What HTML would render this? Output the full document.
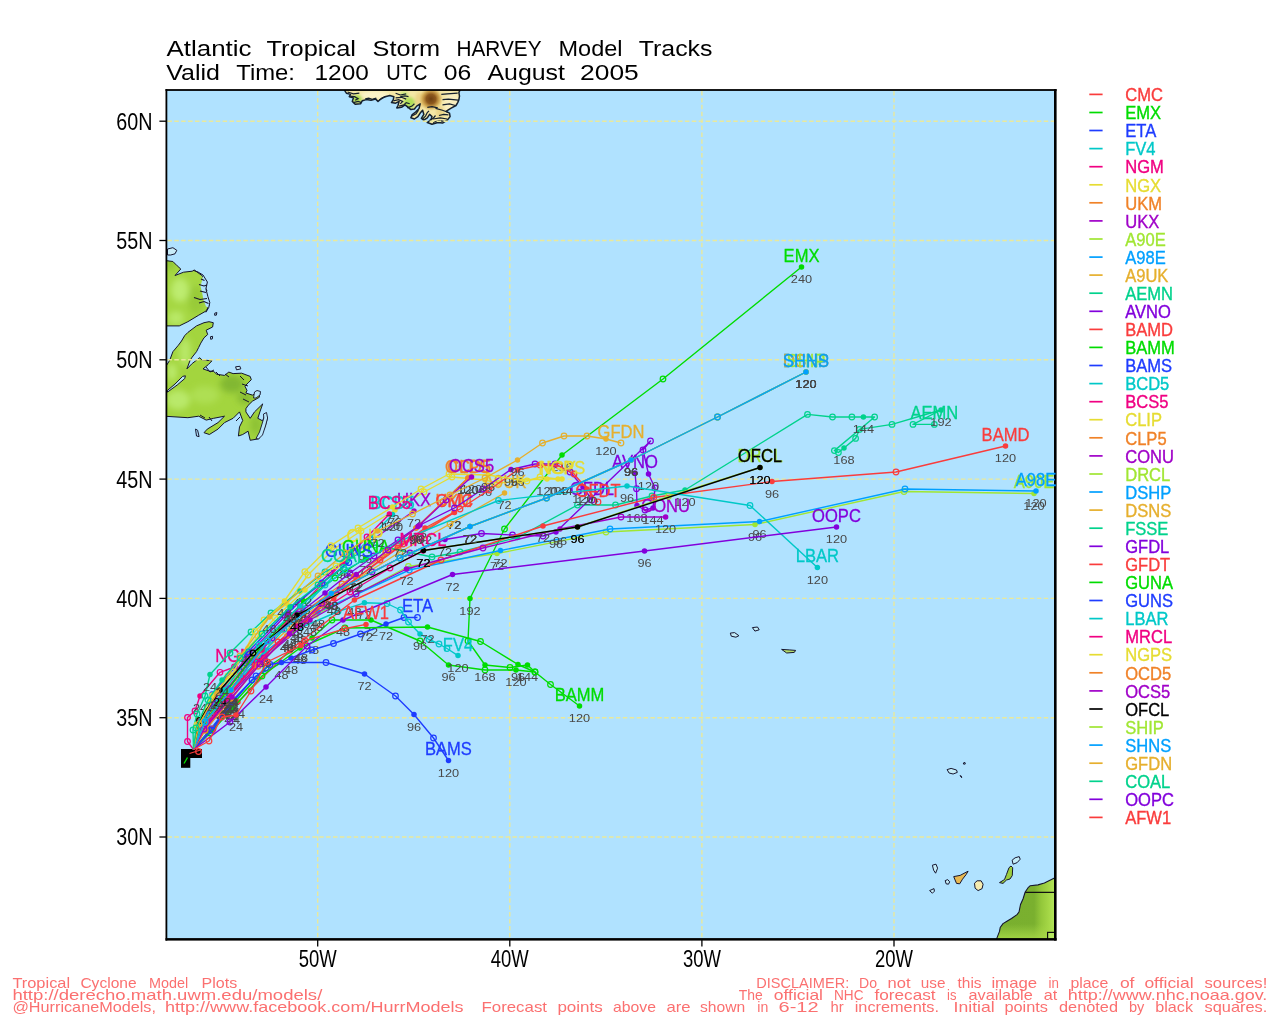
<!DOCTYPE html>
<html lang="en"><head><meta charset="utf-8"><title>Atlantic Tropical Storm HARVEY Model Tracks</title>
<style>
html,body{margin:0;padding:0;background:#fff}
body{width:1280px;height:1024px;overflow:hidden;font-family:"Liberation Sans",sans-serif}
svg{display:block}
text{font-family:"Liberation Sans",sans-serif}
.ttl{font-size:21.8px;fill:#000}
.ax{font-size:23.8px;fill:#000}
.lg{font-size:17.7px;stroke-width:.35px}
.ft{font-size:14.4px;fill:#fb7070}
.hr{font-size:11.4px;fill:#484848}
.hb{font-size:11.4px;fill:#000}
.ml{font-size:18.3px;stroke-width:.3px}
.oc{fill:none;stroke-width:1.2}
.fc{stroke:none}
.trk{fill:none;stroke-width:1.38;stroke-linejoin:round}
</style></head><body>
<svg width="1280" height="1024" viewBox="0 0 1280 1024">
<rect x="0" y="0" width="1280" height="1024" fill="#fff"/>
<rect x="166.4" y="90.0" width="888.8000000000001" height="849.3" fill="#b0e2ff"/>
<clipPath id="cp"><rect x="166.4" y="90.0" width="888.8000000000001" height="849.3"/></clipPath>
<g clip-path="url(#cp)">
<defs>
<radialGradient id="gl1" cx="0.35" cy="0.45" r="0.6"><stop offset="0" stop-color="#bdeb72"/><stop offset="0.6" stop-color="#a8db48"/><stop offset="1" stop-color="#92c636"/></radialGradient>
<linearGradient id="gaf" gradientUnits="userSpaceOnUse" x1="997" y1="0" x2="1055" y2="0"><stop offset="0" stop-color="#79af2e"/><stop offset="0.64" stop-color="#7ab02f"/><stop offset="0.76" stop-color="#93c73a"/><stop offset="0.9" stop-color="#a6d847"/><stop offset="1" stop-color="#b4e65e"/></linearGradient>
<linearGradient id="gaf2" x1="0" y1="0" x2="0" y2="1"><stop offset="0" stop-color="#a6d846" stop-opacity="0"/><stop offset="0.8" stop-color="#a6d846" stop-opacity="0.85"/></linearGradient>
<radialGradient id="ggr" cx="0.5" cy="0.5" r="0.5"><stop offset="0" stop-color="#6e4012"/><stop offset="0.4" stop-color="#8f5a1e"/><stop offset="0.7" stop-color="#c8983e" stop-opacity="0.8"/><stop offset="1" stop-color="#d8b050" stop-opacity="0"/></radialGradient>
<filter id="bl" x="-20%" y="-20%" width="140%" height="140%"><feGaussianBlur stdDeviation="3"/></filter>
<filter id="bl2" x="-30%" y="-30%" width="160%" height="160%"><feGaussianBlur stdDeviation="1.6"/></filter>
</defs>
<clipPath id="clab"><path d="M164.3 260.4 L172.9 261.5 L177.2 265.8 L180.8 269.0 L175.0 275.5 L183.6 272.2 L192.2 271.2 L194.4 270.1 L201.9 275.5 L206.2 281.9 L204.7 286.2 L206.8 290.5 L204.0 294.8 L207.7 298.0 L206.2 302.3 L209.0 305.5 L206.2 310.9 L198.7 315.2 L187.9 321.7 L179.3 325.9 L164.3 325.9Z"/></clipPath>
<path d="M164.3 260.4 L172.9 261.5 L177.2 265.8 L180.8 269.0 L175.0 275.5 L183.6 272.2 L192.2 271.2 L194.4 270.1 L201.9 275.5 L206.2 281.9 L204.7 286.2 L206.8 290.5 L204.0 294.8 L207.7 298.0 L206.2 302.3 L209.0 305.5 L206.2 310.9 L198.7 315.2 L187.9 321.7 L179.3 325.9 L164.3 325.9Z" fill="#a5d742"/>
<g clip-path="url(#clab)" filter="url(#bl)"><ellipse cx="180" cy="290" rx="9" ry="12" fill="#bdec70"/><ellipse cx="176" cy="318" rx="8" ry="7" fill="#b9e968"/><ellipse cx="196" cy="300" rx="8" ry="14" fill="#98cb38"/><ellipse cx="170" cy="262" rx="5" ry="8" fill="#8fc434"/></g>
<path d="M164.3 260.4 L172.9 261.5 L177.2 265.8 L180.8 269.0 L175.0 275.5 L183.6 272.2 L192.2 271.2 L194.4 270.1 L201.9 275.5 L206.2 281.9 L204.7 286.2 L206.8 290.5 L204.0 294.8 L207.7 298.0 L206.2 302.3 L209.0 305.5 L206.2 310.9 L198.7 315.2 L187.9 321.7 L179.3 325.9 L164.3 325.9Z" fill="none" stroke="#15152e" stroke-width="1" stroke-linejoin="round"/>
<path d="M167.5 249.0 L172.9 247.7 L176.8 250.3 L175.0 253.8 L170.7 255.0 L167.5 255.0Z" fill="#c8ecf8" stroke="#15152e" stroke-width="1.0" stroke-linejoin="round" />
<path d="M203 275 L207.4 282 L205.9 288.8 L207.9 296.6 L209.8 302.5 L208.8 307.4 L206 306.5 L203.5 300 L202 292 L200.5 286 L202.5 279Z" fill="#b0e2ff"/>
<path d="M193.2 270.3 L198 272 L203 275 L207.4 282 L205.9 288.8 L207.9 296.6 L209.8 302.5 L208.8 307.4 L205.9 312.3" fill="none" stroke="#15152e" stroke-width="1"/>
<path d="M199 284.5 L204 286 L207 285 M200 291 L206 292.5 M194 297.5 L200 299.5 L207 298.5 M199 303 L204 301.5 L208.5 303.5 M201 279 L204.5 280.5" fill="none" stroke="#15152e" stroke-width="1.1"/>
<clipPath id="cnf"><path d="M164.3 368.9 L169.7 360.3 L172.9 351.7 L178.3 345.3 L181.5 341.0 L184.7 335.6 L187.9 332.4 L196.5 325.9 L204.0 322.7 L209.0 321.7 L213.3 322.7 L212.6 327.0 L206.2 330.2 L207.7 334.5 L204.0 337.8 L200.8 343.1 L198.7 347.4 L196.5 351.7 L192.2 357.1 L190.1 360.3 L186.9 368.9 L192.2 363.5 L199.8 357.7 L201.9 359.9 L206.2 360.3 L212.0 360.8 L208.3 364.6 L203.0 368.9 L209.4 371.1 L213.7 371.5 L216.9 374.3 L224.5 375.4 L228.8 372.1 L233.1 373.6 L241.7 373.2 L250.2 376.4 L251.3 379.7 L248.1 382.9 L244.9 386.1 L247.0 390.4 L245.9 393.0 L252.4 395.1 L259.9 392.1 L259.3 397.3 L252.4 401.2 L248.1 405.4 L245.9 408.7 L245.9 411.9 L250.2 418.3 L254.5 411.9 L262.7 403.9 L259.9 411.9 L257.8 418.3 L262.7 420.9 L265.3 413.0 L267.4 418.3 L265.3 425.9 L263.1 431.2 L258.8 438.8 L250.2 440.3 L248.1 431.2 L242.7 434.5 L238.4 436.0 L239.5 426.9 L242.7 420.5 L239.5 411.9 L233.1 418.3 L224.5 422.6 L218.0 429.1 L209.4 434.5 L204.0 432.7 L207.3 429.1 L218.0 422.6 L224.5 416.2 L213.7 418.3 L206.2 420.1 L198.7 416.2 L187.9 417.7 L164.3 416.2Z"/></clipPath>
<path d="M164.3 368.9 L169.7 360.3 L172.9 351.7 L178.3 345.3 L181.5 341.0 L184.7 335.6 L187.9 332.4 L196.5 325.9 L204.0 322.7 L209.0 321.7 L213.3 322.7 L212.6 327.0 L206.2 330.2 L207.7 334.5 L204.0 337.8 L200.8 343.1 L198.7 347.4 L196.5 351.7 L192.2 357.1 L190.1 360.3 L186.9 368.9 L192.2 363.5 L199.8 357.7 L201.9 359.9 L206.2 360.3 L212.0 360.8 L208.3 364.6 L203.0 368.9 L209.4 371.1 L213.7 371.5 L216.9 374.3 L224.5 375.4 L228.8 372.1 L233.1 373.6 L241.7 373.2 L250.2 376.4 L251.3 379.7 L248.1 382.9 L244.9 386.1 L247.0 390.4 L245.9 393.0 L252.4 395.1 L259.9 392.1 L259.3 397.3 L252.4 401.2 L248.1 405.4 L245.9 408.7 L245.9 411.9 L250.2 418.3 L254.5 411.9 L262.7 403.9 L259.9 411.9 L257.8 418.3 L262.7 420.9 L265.3 413.0 L267.4 418.3 L265.3 425.9 L263.1 431.2 L258.8 438.8 L250.2 440.3 L248.1 431.2 L242.7 434.5 L238.4 436.0 L239.5 426.9 L242.7 420.5 L239.5 411.9 L233.1 418.3 L224.5 422.6 L218.0 429.1 L209.4 434.5 L204.0 432.7 L207.3 429.1 L218.0 422.6 L224.5 416.2 L213.7 418.3 L206.2 420.1 L198.7 416.2 L187.9 417.7 L164.3 416.2Z" fill="#a3d53e"/>
<g clip-path="url(#cnf)" filter="url(#bl)"><ellipse cx="178" cy="400" rx="12" ry="10" fill="#b9e96a"/><ellipse cx="185" cy="352" rx="6" ry="14" fill="#b8e868"/><ellipse cx="172" cy="372" rx="5" ry="9" fill="#bbea6c"/><ellipse cx="205" cy="395" rx="14" ry="9" fill="#aedf52"/><ellipse cx="232" cy="384" rx="12" ry="9" fill="#82b830"/><ellipse cx="245" cy="398" rx="8" ry="6" fill="#86bb32"/><ellipse cx="256" cy="425" rx="6" ry="10" fill="#8ec234"/><ellipse cx="176" cy="336" rx="5" ry="8" fill="#8cc034"/></g>
<path d="M164.3 368.9 L169.7 360.3 L172.9 351.7 L178.3 345.3 L181.5 341.0 L184.7 335.6 L187.9 332.4 L196.5 325.9 L204.0 322.7 L209.0 321.7 L213.3 322.7 L212.6 327.0 L206.2 330.2 L207.7 334.5 L204.0 337.8 L200.8 343.1 L198.7 347.4 L196.5 351.7 L192.2 357.1 L190.1 360.3 L186.9 368.9 L192.2 363.5 L199.8 357.7 L201.9 359.9 L206.2 360.3 L212.0 360.8 L208.3 364.6 L203.0 368.9 L209.4 371.1 L213.7 371.5 L216.9 374.3 L224.5 375.4 L228.8 372.1 L233.1 373.6 L241.7 373.2 L250.2 376.4 L251.3 379.7 L248.1 382.9 L244.9 386.1 L247.0 390.4 L245.9 393.0 L252.4 395.1 L259.9 392.1 L259.3 397.3 L252.4 401.2 L248.1 405.4 L245.9 408.7 L245.9 411.9 L250.2 418.3 L254.5 411.9 L262.7 403.9 L259.9 411.9 L257.8 418.3 L262.7 420.9 L265.3 413.0 L267.4 418.3 L265.3 425.9 L263.1 431.2 L258.8 438.8 L250.2 440.3 L248.1 431.2 L242.7 434.5 L238.4 436.0 L239.5 426.9 L242.7 420.5 L239.5 411.9 L233.1 418.3 L224.5 422.6 L218.0 429.1 L209.4 434.5 L204.0 432.7 L207.3 429.1 L218.0 422.6 L224.5 416.2 L213.7 418.3 L206.2 420.1 L198.7 416.2 L187.9 417.7 L164.3 416.2Z" fill="none" stroke="#15152e" stroke-width="1" stroke-linejoin="round"/>
<path d="M167.5 390.4 L175.0 384.0 L182.6 376.4 L185.4 375.8 L184.7 378.6 L177.2 385.0 L167.5 392.1Z" fill="#b8e4f4" stroke="#15152e" stroke-width="1.0" stroke-linejoin="round" />
<path d="M263.5 414 L266.5 412.5 L267.6 418 L265.5 426 L262.5 435 L258.5 439 L256 438.5 L259.5 432 L262 424 L263.8 418Z" fill="#b8e6fb" stroke="#15152e" stroke-width="0.9"/>
<path d="M254.5 392 L257 390.5 L260.5 391.5 L260 395 L256 398 L253.5 398Z" fill="#b8e6fb" stroke="#15152e" stroke-width="0.9"/>
<path d="M240 376 L244 380 M242 384 L248 386 M240 392 L246 395 M243 399 L249 402 M206 367 L210 372 L214 370 M216 372 L220 376 M225 374 L229 377 M200 415 L205 418 M209 417 L212 421 M236 421 L240 417" fill="none" stroke="#15152e" stroke-width="1"/>
<path d="M214.8 313.1 L216.9 312.6 L216.3 315.2 L214.6 315.2Z" fill="none" stroke="#15152e" stroke-width="1.0" stroke-linejoin="round" />
<path d="M210.5 336.7 L212.6 336.3 L212.4 338.8 L210.7 339.3Z" fill="none" stroke="#15152e" stroke-width="1.0" stroke-linejoin="round" />
<path d="M235.6 366.8 L239.9 366.3 L240.8 368.9 L236.5 369.8Z" fill="#c8ecf8" stroke="#15152e" stroke-width="1.0" stroke-linejoin="round" />
<path d="M195.5 429.1 L197.6 430.2 L199.1 436.6 L196.5 436.0Z" fill="none" stroke="#15152e" stroke-width="1.0" stroke-linejoin="round" />
<clipPath id="cgr"><path d="M344.1 89.7 L346.4 93.2 L350.5 94.4 L349.3 96.7 L353.4 97.9 L352.3 101.4 L355.2 104.3 L360.5 103.8 L362.2 100.8 L366.3 99.6 L371.0 100.2 L375.7 99.1 L378.0 101.4 L381.6 98.5 L385.1 96.7 L389.8 95.5 L393.9 96.7 L393.3 99.6 L391.5 102.6 L395.6 103.2 L399.1 101.4 L398.0 105.5 L396.8 107.9 L401.5 107.3 L405.0 104.9 L407.3 106.7 L410.9 109.6 L414.4 109.0 L416.7 106.1 L420.2 103.8 L419.1 108.4 L415.6 112.0 L412.0 114.9 L410.9 117.8 L414.4 119.0 L417.9 116.6 L420.2 113.1 L422.6 110.2 L423.8 114.3 L421.4 118.4 L423.8 120.2 L427.3 117.8 L429.6 114.3 L432.0 116.6 L430.8 120.2 L427.3 122.5 L432.0 124.3 L437.8 122.5 L442.5 123.1 L447.2 120.2 L450.1 116.6 L449.5 113.1 L446.0 111.4 L450.7 108.4 L456.0 105.5 L457.7 102.6 L458.9 99.6 L459.5 96.1 L458.9 92.6 L460.1 89.7Z"/></clipPath>
<path d="M344.1 89.7 L346.4 93.2 L350.5 94.4 L349.3 96.7 L353.4 97.9 L352.3 101.4 L355.2 104.3 L360.5 103.8 L362.2 100.8 L366.3 99.6 L371.0 100.2 L375.7 99.1 L378.0 101.4 L381.6 98.5 L385.1 96.7 L389.8 95.5 L393.9 96.7 L393.3 99.6 L391.5 102.6 L395.6 103.2 L399.1 101.4 L398.0 105.5 L396.8 107.9 L401.5 107.3 L405.0 104.9 L407.3 106.7 L410.9 109.6 L414.4 109.0 L416.7 106.1 L420.2 103.8 L419.1 108.4 L415.6 112.0 L412.0 114.9 L410.9 117.8 L414.4 119.0 L417.9 116.6 L420.2 113.1 L422.6 110.2 L423.8 114.3 L421.4 118.4 L423.8 120.2 L427.3 117.8 L429.6 114.3 L432.0 116.6 L430.8 120.2 L427.3 122.5 L432.0 124.3 L437.8 122.5 L442.5 123.1 L447.2 120.2 L450.1 116.6 L449.5 113.1 L446.0 111.4 L450.7 108.4 L456.0 105.5 L457.7 102.6 L458.9 99.6 L459.5 96.1 L458.9 92.6 L460.1 89.7Z" fill="#f4e7a6"/>
<g clip-path="url(#cgr)">
<g filter="url(#bl2)"><ellipse cx="357" cy="99" rx="5" ry="4" fill="#a8dc4c"/><ellipse cx="375" cy="95" rx="14" ry="4" fill="#fbf3c8"/>
<ellipse cx="409" cy="103" rx="6" ry="6" fill="#b0e058"/><ellipse cx="404" cy="94" rx="4" ry="2.5" fill="#c4e878"/>
<ellipse cx="421" cy="117" rx="2.5" ry="4" fill="#b4e25a"/><ellipse cx="420" cy="100" rx="5" ry="8" fill="#ecd488"/></g>
<ellipse cx="431" cy="99" rx="12" ry="12" fill="url(#ggr)"/>
<g filter="url(#bl2)"><ellipse cx="452" cy="104" rx="8" ry="12" fill="#f9f0c4" opacity="0.8"/><ellipse cx="440" cy="112" rx="4" ry="6" fill="#e9cf80" opacity="0.8"/></g>
</g>
<path d="M344.1 89.7 L346.4 93.2 L350.5 94.4 L349.3 96.7 L353.4 97.9 L352.3 101.4 L355.2 104.3 L360.5 103.8 L362.2 100.8 L366.3 99.6 L371.0 100.2 L375.7 99.1 L378.0 101.4 L381.6 98.5 L385.1 96.7 L389.8 95.5 L393.9 96.7 L393.3 99.6 L391.5 102.6 L395.6 103.2 L399.1 101.4 L398.0 105.5 L396.8 107.9 L401.5 107.3 L405.0 104.9 L407.3 106.7 L410.9 109.6 L414.4 109.0 L416.7 106.1 L420.2 103.8 L419.1 108.4 L415.6 112.0 L412.0 114.9 L410.9 117.8 L414.4 119.0 L417.9 116.6 L420.2 113.1 L422.6 110.2 L423.8 114.3 L421.4 118.4 L423.8 120.2 L427.3 117.8 L429.6 114.3 L432.0 116.6 L430.8 120.2 L427.3 122.5 L432.0 124.3 L437.8 122.5 L442.5 123.1 L447.2 120.2 L450.1 116.6 L449.5 113.1 L446.0 111.4 L450.7 108.4 L456.0 105.5 L457.7 102.6 L458.9 99.6 L459.5 96.1 L458.9 92.6 L460.1 89.7Z" fill="none" stroke="#15202e" stroke-width="1.5" stroke-linejoin="round"/>
<path d="M349.9 96.1 L354.6 96.7 L358.1 98.8 L355.2 100.2" fill="none" stroke="#15202e" stroke-width="1.2"/>
<path d="M353.4 102.6 L358.1 101.4 L361.6 102.6" fill="none" stroke="#15202e" stroke-width="1.2"/>
<path d="M365.2 98.8 L368.7 98.1 L372.2 99.3 L376.3 98.1" fill="none" stroke="#15202e" stroke-width="1.2"/>
<path d="M379.2 100.0 L382.7 97.7 L386.3 96.3" fill="none" stroke="#15202e" stroke-width="1.2"/>
<path d="M393.3 100.8 L398.6 99.6 L402.7 101.4 L400.3 103.8" fill="none" stroke="#15202e" stroke-width="1.2"/>
<path d="M400.3 96.7 L405.0 95.8 L408.5 96.7" fill="none" stroke="#15202e" stroke-width="1.2"/>
<path d="M399.1 106.1 L403.8 104.9 L406.2 102.6 L409.7 103.8" fill="none" stroke="#15202e" stroke-width="1.2"/>
<path d="M407.3 107.9 L412.0 106.1 L414.4 103.8" fill="none" stroke="#15202e" stroke-width="1.2"/>
<path d="M412.0 116.1 L416.1 113.7 L418.5 110.2" fill="none" stroke="#15202e" stroke-width="1.2"/>
<path d="M422.6 119.0 L425.5 116.1 L427.3 112.5 L429.0 110.8" fill="none" stroke="#15202e" stroke-width="1.2"/>
<path d="M429.6 120.2 L433.1 118.4 L435.5 115.5" fill="none" stroke="#15202e" stroke-width="1.2"/>
<path d="M433.1 122.5 L439.0 120.7 L444.3 121.3" fill="none" stroke="#15202e" stroke-width="1.2"/>
<path d="M439.0 115.5 L443.7 114.3 L448.4 114.9" fill="none" stroke="#15202e" stroke-width="1.2"/>
<path d="M347.6 92.0 L353.4 93.8 L359.3 93.2" fill="none" stroke="#15202e" stroke-width="1.2"/>
<path d="M395.6 93.2 L400.3 95.0 L406.2 93.8" fill="none" stroke="#15202e" stroke-width="1.2"/>
<path d="M395.6 97.9 L401.5 97.3 L406.2 99.1" fill="none" stroke="#15202e" stroke-width="1.2"/>
<path d="M441.3 94.4 L447.2 93.8 L457.7 93.2" fill="none" stroke="#15202e" stroke-width="1.2"/>
<path d="M442.5 99.6 L448.4 99.1 L458.3 100.2" fill="none" stroke="#15202e" stroke-width="1.2"/>
<path d="M442.5 104.9 L449.5 103.8 L455.4 105.5" fill="none" stroke="#15202e" stroke-width="1.2"/>
<path d="M435.5 108.4 L442.5 110.2 L448.4 112.5" fill="none" stroke="#15202e" stroke-width="1.2"/>
<path d="M433.1 119.0 L440.2 117.8 L447.2 119.0" fill="none" stroke="#15202e" stroke-width="1.2"/>
<path d="M427.3 107.3 L432.0 106.7 L437.8 107.9" fill="none" stroke="#15202e" stroke-width="1.2"/>
<clipPath id="caf"><path d="M1056.0 877.4 L1054.0 878.3 L1044.4 883.0 L1038.0 884.9 L1030.3 885.7 L1028.4 887.3 L1025.2 892.0 L1023.0 899.0 L1020.5 904.5 L1019.0 912.0 L1017.0 914.6 L1011.5 918.5 L1006.9 921.2 L1003.0 923.6 L1000.2 927.5 L999.5 931.4 L996.7 938.6 L996.5 941.0 L1056.0 941.0Z"/></clipPath>
<path d="M1056.0 877.4 L1054.0 878.3 L1044.4 883.0 L1038.0 884.9 L1030.3 885.7 L1028.4 887.3 L1025.2 892.0 L1023.0 899.0 L1020.5 904.5 L1019.0 912.0 L1017.0 914.6 L1011.5 918.5 L1006.9 921.2 L1003.0 923.6 L1000.2 927.5 L999.5 931.4 L996.7 938.6 L996.5 941.0 L1056.0 941.0Z" fill="url(#gaf)"/>
<g clip-path="url(#caf)"><rect x="990" y="924" width="70" height="18" fill="url(#gaf2)"/></g>
<path d="M1056.0 877.4 L1054.0 878.3 L1044.4 883.0 L1038.0 884.9 L1030.3 885.7 L1028.4 887.3 L1025.2 892.0 L1023.0 899.0 L1020.5 904.5 L1019.0 912.0 L1017.0 914.6 L1011.5 918.5 L1006.9 921.2 L1003.0 923.6 L1000.2 927.5 L999.5 931.4 L996.7 938.6 L996.5 941.0 L1056.0 941.0Z" fill="none" stroke="#15152e" stroke-width="1.1" stroke-linejoin="round"/>
<line x1="1025.2" y1="892.3" x2="1055" y2="892.3" stroke="#111" stroke-width="1.2"/>
<rect x="1047.6" y="932.4" width="8" height="8" fill="#b6e860" stroke="#111" stroke-width="1.2"/>
<path d="M1012.1 860.2 L1015.1 857.8 L1019.2 856.6 L1020.2 859.2 L1017.2 862.6 L1013.1 864.2Z" fill="#c4ecf8" stroke="#15152e" stroke-width="1.0" stroke-linejoin="round" />
<path d="M1011.0 866.0 L1012.7 867.7 L1012.3 875.5 L1010.0 879.0 L1006.5 880.0 L1003.0 883.4 L999.5 882.6 L1004.5 879.5 L1006.5 874.4 L1009.0 867.7Z" fill="#9ccd3e" stroke="#15152e" stroke-width="1.0" stroke-linejoin="round" />
<path d="M974.5 883.2 L977.1 880.8 L981.1 880.8 L983.1 884.2 L982.1 888.6 L978.1 890.6 L975.1 888.2Z" fill="#f6ecb0" stroke="#15152e" stroke-width="1.0" stroke-linejoin="round" />
<path d="M953.7 876.6 L960.1 875.4 L968.1 871.2 L966.1 874.6 L962.5 879.2 L959.7 883.8 L956.5 883.4Z" fill="#e8b850" stroke="#15152e" stroke-width="1.0" stroke-linejoin="round" />
<path d="M945.2 880.6 L947.7 879.6 L949.7 881.8 L948.5 884.2 L946.1 883.8Z" fill="#c4ecf8" stroke="#15152e" stroke-width="1.0" stroke-linejoin="round" />
<path d="M932.4 865.2 L936.0 864.2 L937.6 868.2 L935.6 873.2 L933.6 870.2Z" fill="#c4ecf8" stroke="#15152e" stroke-width="1.0" stroke-linejoin="round" />
<path d="M929.6 890.6 L934.0 888.6 L934.4 891.2 L932.4 893.2Z" fill="#c4ecf8" stroke="#15152e" stroke-width="1.0" stroke-linejoin="round" />
<path d="M947.1 769.6 L951.1 768.4 L956.5 770.0 L957.3 772.4 L953.1 774.0 L949.1 773.0Z" fill="#c4ecf8" stroke="#15152e" stroke-width="1.0" stroke-linejoin="round" />
<path d="M963.3 763.0 L964.9 762.4 L965.3 764.0 L963.7 764.2Z" fill="none" stroke="#15152e" stroke-width="1.0" stroke-linejoin="round" />
<path d="M960.1 775.6 L961.3 776.1 L961.7 777.7Z" fill="none" stroke="#15152e" stroke-width="1.0" stroke-linejoin="round" />
<path d="M730.3 633.1 L734.6 632.6 L738.9 635.7 L735.9 637.2 L731.3 636.2Z" fill="#c4ecf8" stroke="#15152e" stroke-width="1.0" stroke-linejoin="round" />
<path d="M752.4 627.6 L757.5 627.0 L759.2 629.8 L754.9 631.1Z" fill="#c4ecf8" stroke="#15152e" stroke-width="1.0" stroke-linejoin="round" />
<path d="M781.6 649.4 L789.2 649.9 L795.6 650.4 L794.3 652.4 L786.7 653.0Z" fill="#b4dc6a" stroke="#15152e" stroke-width="1.0" stroke-linejoin="round" />
<line x1="167.4" y1="121.2" x2="1055.2" y2="121.2" stroke="#e9e99c" stroke-width="1.4" stroke-dasharray="4.5 2.4"/>
<line x1="167.4" y1="240.5" x2="1055.2" y2="240.5" stroke="#e9e99c" stroke-width="1.4" stroke-dasharray="4.5 2.4"/>
<line x1="167.4" y1="359.8" x2="1055.2" y2="359.8" stroke="#e9e99c" stroke-width="1.4" stroke-dasharray="4.5 2.4"/>
<line x1="167.4" y1="479.1" x2="1055.2" y2="479.1" stroke="#e9e99c" stroke-width="1.4" stroke-dasharray="4.5 2.4"/>
<line x1="167.4" y1="598.4" x2="1055.2" y2="598.4" stroke="#e9e99c" stroke-width="1.4" stroke-dasharray="4.5 2.4"/>
<line x1="167.4" y1="717.7" x2="1055.2" y2="717.7" stroke="#e9e99c" stroke-width="1.4" stroke-dasharray="4.5 2.4"/>
<line x1="167.4" y1="837.0" x2="1055.2" y2="837.0" stroke="#e9e99c" stroke-width="1.4" stroke-dasharray="4.5 2.4"/>
<line x1="317.7" y1="91.0" x2="317.7" y2="939.3" stroke="#e9e99c" stroke-width="1.4" stroke-dasharray="4.5 2.4"/>
<line x1="509.8" y1="91.0" x2="509.8" y2="939.3" stroke="#e9e99c" stroke-width="1.4" stroke-dasharray="4.5 2.4"/>
<line x1="701.9" y1="91.0" x2="701.9" y2="939.3" stroke="#e9e99c" stroke-width="1.4" stroke-dasharray="4.5 2.4"/>
<line x1="894.0" y1="91.0" x2="894.0" y2="939.3" stroke="#e9e99c" stroke-width="1.4" stroke-dasharray="4.5 2.4"/>
</g>
<rect x="165.5" y="89.1" width="1.8" height="851.5" fill="#000"/><rect x="165.5" y="89.1" width="891.1" height="1.8" fill="#000"/><rect x="1054.0" y="89.1" width="2.6" height="851.5" fill="#000"/><rect x="165.5" y="938.1" width="891.1" height="2.5" fill="#000"/>
<rect x="181" y="749" width="21" height="9" fill="#000"/><rect x="181" y="749" width="9.3" height="18.8" fill="#000"/>
<g fill="#f08228" stroke="#f08228"><path class="trk" d="M193.5 749.5 L201.0 723.0 L223.0 694.0 L252.0 657.0 L293.0 620.0 L342.0 584.0 L398.0 546.0 L454.0 512.3"/>
<circle class="oc" cx="201.0" cy="723.0" r="2.8"/>
<circle class="fc" cx="223.0" cy="694.0" r="2.75"/>
<circle class="oc" cx="252.0" cy="657.0" r="2.8"/>
<circle class="fc" cx="293.0" cy="620.0" r="2.75"/>
<circle class="oc" cx="342.0" cy="584.0" r="2.8"/>
<circle class="oc" cx="398.0" cy="546.0" r="2.8"/>
<circle class="fc" cx="454.0" cy="512.3" r="2.75"/>
</g>
<text class="hr" x="215.9" y="710.3" textLength="14.2" lengthAdjust="spacingAndGlyphs">24</text>
<text class="hr" x="285.9" y="636.3" textLength="14.2" lengthAdjust="spacingAndGlyphs">48</text>
<text class="hr" x="446.9" y="528.6" textLength="14.2" lengthAdjust="spacingAndGlyphs">72</text>
<text class="ml" x="435.6" y="507.2" textLength="36.8" lengthAdjust="spacingAndGlyphs" fill="#f08228" stroke="#f08228">UKM</text>
<g fill="#fa3c3c" stroke="#fa3c3c"><path class="trk" d="M193.5 749.5 L207.0 727.0 L227.0 698.0 L255.0 664.0 L290.0 632.0 L340.0 590.0 L398.0 548.0 L454.5 512.5"/>
<circle class="oc" cx="207.0" cy="727.0" r="2.8"/>
<circle class="fc" cx="227.0" cy="698.0" r="2.75"/>
<circle class="oc" cx="255.0" cy="664.0" r="2.8"/>
<circle class="fc" cx="290.0" cy="632.0" r="2.75"/>
<circle class="oc" cx="340.0" cy="590.0" r="2.8"/>
<circle class="oc" cx="398.0" cy="548.0" r="2.8"/>
<circle class="fc" cx="454.5" cy="512.5" r="2.75"/>
</g>
<text class="hr" x="219.9" y="714.3" textLength="14.2" lengthAdjust="spacingAndGlyphs">24</text>
<text class="hr" x="282.9" y="648.3" textLength="14.2" lengthAdjust="spacingAndGlyphs">48</text>
<text class="hr" x="447.4" y="528.8" textLength="14.2" lengthAdjust="spacingAndGlyphs">72</text>
<text class="ml" x="435.6" y="507.4" textLength="37.7" lengthAdjust="spacingAndGlyphs" fill="#fa3c3c" stroke="#fa3c3c">CMC</text>
<g fill="#00dc00" stroke="#00dc00"><path class="trk" d="M193.5 749.5 L209.0 731.0 L231.0 706.0 L266.0 668.0 L312.0 638.0 L332.0 620.0 L371.0 620.0 L420.0 641.0 L448.5 665.0 L485.0 670.0 L516.0 670.0 L535.0 672.0 L527.5 665.0 L510.0 667.5 L485.0 665.0 L468.0 641.0 L470.0 598.5 L504.5 529.0 L562.0 455.0 L663.0 379.0 L801.5 267.0"/>
<circle class="oc" cx="209.0" cy="731.0" r="2.8"/>
<circle class="fc" cx="231.0" cy="706.0" r="2.75"/>
<circle class="oc" cx="266.0" cy="668.0" r="2.8"/>
<circle class="fc" cx="312.0" cy="638.0" r="2.75"/>
<circle class="oc" cx="332.0" cy="620.0" r="2.8"/>
<circle class="fc" cx="371.0" cy="620.0" r="2.75"/>
<circle class="oc" cx="420.0" cy="641.0" r="2.8"/>
<circle class="fc" cx="448.5" cy="665.0" r="2.75"/>
<circle class="oc" cx="485.0" cy="670.0" r="2.8"/>
<circle class="fc" cx="516.0" cy="670.0" r="2.75"/>
<circle class="oc" cx="535.0" cy="672.0" r="2.8"/>
<circle class="fc" cx="527.5" cy="665.0" r="2.75"/>
<circle class="oc" cx="510.0" cy="667.5" r="2.8"/>
<circle class="fc" cx="485.0" cy="665.0" r="2.75"/>
<circle class="oc" cx="468.0" cy="641.0" r="2.8"/>
<circle class="fc" cx="470.0" cy="598.5" r="2.75"/>
<circle class="oc" cx="504.5" cy="529.0" r="2.8"/>
<circle class="fc" cx="562.0" cy="455.0" r="2.75"/>
<circle class="oc" cx="663.0" cy="379.0" r="2.8"/>
<circle class="fc" cx="801.5" cy="267.0" r="2.75"/>
</g>
<text class="hr" x="223.9" y="722.3" textLength="14.2" lengthAdjust="spacingAndGlyphs">24</text>
<text class="hr" x="304.9" y="654.3" textLength="14.2" lengthAdjust="spacingAndGlyphs">48</text>
<text class="hr" x="363.9" y="636.3" textLength="14.2" lengthAdjust="spacingAndGlyphs">72</text>
<text class="hr" x="441.4" y="681.3" textLength="14.2" lengthAdjust="spacingAndGlyphs">96</text>
<text class="hr" x="505.3" y="686.3" textLength="21.3" lengthAdjust="spacingAndGlyphs">120</text>
<text class="hr" x="516.8" y="681.3" textLength="21.3" lengthAdjust="spacingAndGlyphs">144</text>
<text class="hr" x="474.3" y="681.3" textLength="21.3" lengthAdjust="spacingAndGlyphs">168</text>
<text class="hr" x="459.3" y="614.8" textLength="21.3" lengthAdjust="spacingAndGlyphs">192</text>
<text class="hr" x="551.3" y="471.3" textLength="21.3" lengthAdjust="spacingAndGlyphs">216</text>
<text class="hr" x="790.8" y="283.3" textLength="21.3" lengthAdjust="spacingAndGlyphs">240</text>
<text class="ml" x="783.6" y="261.9" textLength="35.9" lengthAdjust="spacingAndGlyphs" fill="#00dc00" stroke="#00dc00">EMX</text>
<g fill="#1e3cff" stroke="#1e3cff"><path class="trk" d="M193.5 749.5 L211.0 729.0 L233.0 700.0 L256.0 676.0 L291.0 658.0 L312.0 650.0 L333.5 643.5 L360.5 634.0 L386.0 624.0 L404.0 617.5 L417.5 617.5"/>
<circle class="oc" cx="211.0" cy="729.0" r="2.8"/>
<circle class="fc" cx="233.0" cy="700.0" r="2.75"/>
<circle class="oc" cx="256.0" cy="676.0" r="2.8"/>
<circle class="fc" cx="291.0" cy="658.0" r="2.75"/>
<circle class="oc" cx="312.0" cy="650.0" r="2.8"/>
<circle class="oc" cx="333.5" cy="643.5" r="2.8"/>
<circle class="oc" cx="360.5" cy="634.0" r="2.8"/>
<circle class="fc" cx="386.0" cy="624.0" r="2.75"/>
<circle class="oc" cx="404.0" cy="617.5" r="2.8"/>
<circle class="oc" cx="417.5" cy="617.5" r="2.8"/>
</g>
<text class="hr" x="225.9" y="716.3" textLength="14.2" lengthAdjust="spacingAndGlyphs">24</text>
<text class="hr" x="283.9" y="674.3" textLength="14.2" lengthAdjust="spacingAndGlyphs">48</text>
<text class="hr" x="378.9" y="640.3" textLength="14.2" lengthAdjust="spacingAndGlyphs">72</text>
<text class="ml" x="402.0" y="612.4" textLength="31.0" lengthAdjust="spacingAndGlyphs" fill="#1e3cff" stroke="#1e3cff">ETA</text>
<g fill="#00c8c8" stroke="#00c8c8"><path class="trk" d="M193.5 749.5 L204.0 727.0 L226.0 696.0 L258.0 660.0 L300.0 628.0 L338.0 611.5 L364.4 602.8 L387.0 603.5 L400.5 610.0 L408.5 622.0 L420.0 634.0 L429.0 639.5 L439.0 644.0 L447.0 648.5 L458.0 655.6"/>
<circle class="oc" cx="204.0" cy="727.0" r="2.8"/>
<circle class="fc" cx="226.0" cy="696.0" r="2.75"/>
<circle class="oc" cx="258.0" cy="660.0" r="2.8"/>
<circle class="fc" cx="300.0" cy="628.0" r="2.75"/>
<circle class="oc" cx="338.0" cy="611.5" r="2.8"/>
<circle class="fc" cx="364.4" cy="602.8" r="2.75"/>
<circle class="oc" cx="387.0" cy="603.5" r="2.8"/>
<circle class="oc" cx="400.5" cy="610.0" r="2.8"/>
<circle class="oc" cx="408.5" cy="622.0" r="2.8"/>
<circle class="fc" cx="420.0" cy="634.0" r="2.75"/>
<circle class="oc" cx="429.0" cy="639.5" r="2.8"/>
<circle class="oc" cx="439.0" cy="644.0" r="2.8"/>
<circle class="oc" cx="447.0" cy="648.5" r="2.8"/>
<circle class="fc" cx="458.0" cy="655.6" r="2.75"/>
</g>
<text class="hr" x="218.9" y="712.3" textLength="14.2" lengthAdjust="spacingAndGlyphs">24</text>
<text class="hr" x="292.9" y="644.3" textLength="14.2" lengthAdjust="spacingAndGlyphs">48</text>
<text class="hr" x="357.3" y="619.1" textLength="14.2" lengthAdjust="spacingAndGlyphs">72</text>
<text class="hr" x="412.9" y="650.3" textLength="14.2" lengthAdjust="spacingAndGlyphs">96</text>
<text class="hr" x="447.3" y="671.9" textLength="21.3" lengthAdjust="spacingAndGlyphs">120</text>
<text class="ml" x="442.8" y="650.5" textLength="30.4" lengthAdjust="spacingAndGlyphs" fill="#00c8c8" stroke="#00c8c8">FV4</text>
<g fill="#f00082" stroke="#f00082"><path class="trk" d="M193.5 749.5 L187.5 741.5 L187.5 717.5 L195.0 711.0 L200.0 696.0 L220.0 672.3 L234.5 667.0"/>
<circle class="oc" cx="187.5" cy="741.5" r="2.8"/>
<circle class="oc" cx="187.5" cy="717.5" r="2.8"/>
<circle class="oc" cx="195.0" cy="711.0" r="2.8"/>
<circle class="fc" cx="200.0" cy="696.0" r="2.75"/>
<circle class="oc" cx="220.0" cy="672.3" r="2.8"/>
<circle class="oc" cx="234.5" cy="667.0" r="2.8"/>
</g>
<text class="hr" x="192.9" y="712.3" textLength="14.2" lengthAdjust="spacingAndGlyphs">24</text>
<text class="ml" x="215.2" y="661.9" textLength="38.6" lengthAdjust="spacingAndGlyphs" fill="#f00082" stroke="#f00082">NGM</text>
<g fill="#e6dc32" stroke="#e6dc32"><path class="trk" d="M193.5 749.5 L198.0 727.0 L215.0 698.0 L236.0 675.0 L258.0 636.0 L264.0 620.0 L287.0 604.0 L308.0 575.0 L334.0 549.0 L361.0 531.0 L395.0 510.0 L424.0 492.0 L452.0 477.0 L485.0 480.0 L497.0 483.0 L527.0 481.0 L540.0 477.0 L558.0 479.0"/>
<circle class="oc" cx="198.0" cy="727.0" r="2.8"/>
<circle class="fc" cx="215.0" cy="698.0" r="2.75"/>
<circle class="oc" cx="236.0" cy="675.0" r="2.8"/>
<circle class="oc" cx="258.0" cy="636.0" r="2.8"/>
<circle class="oc" cx="264.0" cy="620.0" r="2.8"/>
<circle class="fc" cx="287.0" cy="604.0" r="2.75"/>
<circle class="oc" cx="308.0" cy="575.0" r="2.8"/>
<circle class="oc" cx="334.0" cy="549.0" r="2.8"/>
<circle class="oc" cx="361.0" cy="531.0" r="2.8"/>
<circle class="fc" cx="395.0" cy="510.0" r="2.75"/>
<circle class="oc" cx="424.0" cy="492.0" r="2.8"/>
<circle class="oc" cx="452.0" cy="477.0" r="2.8"/>
<circle class="fc" cx="485.0" cy="480.0" r="2.75"/>
<circle class="oc" cx="497.0" cy="483.0" r="2.8"/>
<circle class="oc" cx="527.0" cy="481.0" r="2.8"/>
<circle class="oc" cx="540.0" cy="477.0" r="2.8"/>
<circle class="fc" cx="558.0" cy="479.0" r="2.75"/>
</g>
<text class="hr" x="207.9" y="714.3" textLength="14.2" lengthAdjust="spacingAndGlyphs">24</text>
<text class="hr" x="279.9" y="620.3" textLength="14.2" lengthAdjust="spacingAndGlyphs">48</text>
<text class="hr" x="387.9" y="526.3" textLength="14.2" lengthAdjust="spacingAndGlyphs">72</text>
<text class="hr" x="477.9" y="496.3" textLength="14.2" lengthAdjust="spacingAndGlyphs">96</text>
<text class="hr" x="547.3" y="495.3" textLength="21.3" lengthAdjust="spacingAndGlyphs">120</text>
<text class="ml" x="540.1" y="473.9" textLength="35.9" lengthAdjust="spacingAndGlyphs" fill="#e6dc32" stroke="#e6dc32">NGX</text>
<g fill="#a000c8" stroke="#a000c8"><path class="trk" d="M193.5 749.5 L200.0 722.0 L220.0 692.0 L249.0 654.0 L288.0 613.0 L330.0 573.0 L372.0 540.0 L414.0 511.0"/>
<circle class="oc" cx="200.0" cy="722.0" r="2.8"/>
<circle class="fc" cx="220.0" cy="692.0" r="2.75"/>
<circle class="oc" cx="249.0" cy="654.0" r="2.8"/>
<circle class="fc" cx="288.0" cy="613.0" r="2.75"/>
<circle class="oc" cx="330.0" cy="573.0" r="2.8"/>
<circle class="oc" cx="372.0" cy="540.0" r="2.8"/>
<circle class="fc" cx="414.0" cy="511.0" r="2.75"/>
</g>
<text class="hr" x="212.9" y="708.3" textLength="14.2" lengthAdjust="spacingAndGlyphs">24</text>
<text class="hr" x="280.9" y="629.3" textLength="14.2" lengthAdjust="spacingAndGlyphs">48</text>
<text class="hr" x="406.9" y="527.3" textLength="14.2" lengthAdjust="spacingAndGlyphs">72</text>
<text class="ml" x="397.0" y="505.9" textLength="34.1" lengthAdjust="spacingAndGlyphs" fill="#a000c8" stroke="#a000c8">UKX</text>
<g fill="#a0e632" stroke="#a0e632"><path class="trk" d="M193.5 749.5 L203.0 726.0 L227.0 695.0 L265.0 654.0 L316.0 615.0 L408.4 566.5 L497.0 553.5 L606.0 532.0 L755.0 524.5 L904.0 491.5 L1034.0 493.5"/>
<circle class="oc" cx="203.0" cy="726.0" r="2.8"/>
<circle class="fc" cx="227.0" cy="695.0" r="2.75"/>
<circle class="oc" cx="265.0" cy="654.0" r="2.8"/>
<circle class="fc" cx="316.0" cy="615.0" r="2.75"/>
<circle class="oc" cx="408.4" cy="566.5" r="2.8"/>
<circle class="fc" cx="497.0" cy="553.5" r="2.75"/>
<circle class="oc" cx="606.0" cy="532.0" r="2.8"/>
<circle class="fc" cx="755.0" cy="524.5" r="2.75"/>
<circle class="oc" cx="904.0" cy="491.5" r="2.8"/>
<circle class="fc" cx="1034.0" cy="493.5" r="2.75"/>
</g>
<text class="hr" x="219.9" y="711.3" textLength="14.2" lengthAdjust="spacingAndGlyphs">24</text>
<text class="hr" x="308.9" y="631.3" textLength="14.2" lengthAdjust="spacingAndGlyphs">48</text>
<text class="hr" x="489.9" y="569.8" textLength="14.2" lengthAdjust="spacingAndGlyphs">72</text>
<text class="hr" x="747.9" y="540.8" textLength="14.2" lengthAdjust="spacingAndGlyphs">96</text>
<text class="hr" x="1023.3" y="509.8" textLength="21.3" lengthAdjust="spacingAndGlyphs">120</text>
<text class="ml" x="1013.7" y="488.4" textLength="40.5" lengthAdjust="spacingAndGlyphs" fill="#a0e632" stroke="#a0e632">A90E</text>
<g fill="#00a0ff" stroke="#00a0ff"><path class="trk" d="M193.5 749.5 L203.0 724.0 L228.0 693.0 L266.0 651.0 L318.0 612.0 L409.3 570.0 L500.5 550.5 L610.0 529.0 L759.5 521.5 L905.0 489.0 L1036.0 491.0"/>
<circle class="oc" cx="203.0" cy="724.0" r="2.8"/>
<circle class="fc" cx="228.0" cy="693.0" r="2.75"/>
<circle class="oc" cx="266.0" cy="651.0" r="2.8"/>
<circle class="fc" cx="318.0" cy="612.0" r="2.75"/>
<circle class="oc" cx="409.3" cy="570.0" r="2.8"/>
<circle class="fc" cx="500.5" cy="550.5" r="2.75"/>
<circle class="oc" cx="610.0" cy="529.0" r="2.8"/>
<circle class="fc" cx="759.5" cy="521.5" r="2.75"/>
<circle class="oc" cx="905.0" cy="489.0" r="2.8"/>
<circle class="fc" cx="1036.0" cy="491.0" r="2.75"/>
</g>
<text class="hr" x="220.9" y="709.3" textLength="14.2" lengthAdjust="spacingAndGlyphs">24</text>
<text class="hr" x="310.9" y="628.3" textLength="14.2" lengthAdjust="spacingAndGlyphs">48</text>
<text class="hr" x="493.4" y="566.8" textLength="14.2" lengthAdjust="spacingAndGlyphs">72</text>
<text class="hr" x="752.4" y="537.8" textLength="14.2" lengthAdjust="spacingAndGlyphs">96</text>
<text class="hr" x="1025.3" y="507.3" textLength="21.3" lengthAdjust="spacingAndGlyphs">120</text>
<text class="ml" x="1015.7" y="485.9" textLength="40.5" lengthAdjust="spacingAndGlyphs" fill="#00a0ff" stroke="#00a0ff">A98E</text>
<g fill="#e6af2d" stroke="#e6af2d"><path class="trk" d="M193.5 749.5 L202.0 724.0 L224.0 697.0 L254.0 660.0 L296.0 622.0 L346.0 586.0 L400.0 552.0 L450.0 524.0 L504.5 493.0"/>
<circle class="oc" cx="202.0" cy="724.0" r="2.8"/>
<circle class="fc" cx="224.0" cy="697.0" r="2.75"/>
<circle class="oc" cx="254.0" cy="660.0" r="2.8"/>
<circle class="fc" cx="296.0" cy="622.0" r="2.75"/>
<circle class="oc" cx="346.0" cy="586.0" r="2.8"/>
<circle class="oc" cx="400.0" cy="552.0" r="2.8"/>
<circle class="oc" cx="450.0" cy="524.0" r="2.8"/>
<circle class="fc" cx="504.5" cy="493.0" r="2.75"/>
</g>
<text class="hr" x="216.9" y="713.3" textLength="14.2" lengthAdjust="spacingAndGlyphs">24</text>
<text class="hr" x="288.9" y="638.3" textLength="14.2" lengthAdjust="spacingAndGlyphs">48</text>
<text class="hr" x="497.4" y="509.3" textLength="14.2" lengthAdjust="spacingAndGlyphs">72</text>
<text class="ml" x="482.9" y="487.9" textLength="43.3" lengthAdjust="spacingAndGlyphs" fill="#e6af2d" stroke="#e6af2d">A9UK</text>
<g fill="#00d28c" stroke="#00d28c"><path class="trk" d="M193.5 749.5 L193.0 730.0 L197.0 714.0 L205.0 696.0 L210.0 674.5 L230.0 653.0 L251.0 632.0 L271.0 613.0 L300.0 591.0 L325.0 572.0 L347.0 560.0 L375.0 545.0 L432.0 557.0 L460.0 552.0 L517.5 537.5 L577.5 505.0 L615.5 505.0 L652.0 496.0 L685.0 490.0 L807.5 414.4 L832.5 417.0 L851.9 417.0 L863.4 417.0 L874.6 417.0 L834.4 450.6 L838.4 452.5 L844.0 448.0 L855.6 438.4 L859.5 429.4 L892.0 424.4 L941.0 410.0 L913.0 424.4 L934.4 424.4"/>
<circle class="oc" cx="193.0" cy="730.0" r="2.8"/>
<circle class="oc" cx="197.0" cy="714.0" r="2.8"/>
<circle class="oc" cx="205.0" cy="696.0" r="2.8"/>
<circle class="fc" cx="210.0" cy="674.5" r="2.75"/>
<circle class="oc" cx="230.0" cy="653.0" r="2.8"/>
<circle class="oc" cx="251.0" cy="632.0" r="2.8"/>
<circle class="oc" cx="271.0" cy="613.0" r="2.8"/>
<circle class="fc" cx="300.0" cy="591.0" r="2.75"/>
<circle class="oc" cx="325.0" cy="572.0" r="2.8"/>
<circle class="oc" cx="347.0" cy="560.0" r="2.8"/>
<circle class="oc" cx="375.0" cy="545.0" r="2.8"/>
<circle class="oc" cx="432.0" cy="557.0" r="2.8"/>
<circle class="oc" cx="460.0" cy="552.0" r="2.8"/>
<circle class="fc" cx="517.5" cy="537.5" r="2.75"/>
<circle class="oc" cx="577.5" cy="505.0" r="2.8"/>
<circle class="oc" cx="615.5" cy="505.0" r="2.8"/>
<circle class="oc" cx="652.0" cy="496.0" r="2.8"/>
<circle class="fc" cx="685.0" cy="490.0" r="2.75"/>
<circle class="oc" cx="807.5" cy="414.4" r="2.8"/>
<circle class="oc" cx="832.5" cy="417.0" r="2.8"/>
<circle class="oc" cx="851.9" cy="417.0" r="2.8"/>
<circle class="fc" cx="863.4" cy="417.0" r="2.75"/>
<circle class="oc" cx="874.6" cy="417.0" r="2.8"/>
<circle class="oc" cx="834.4" cy="450.6" r="2.8"/>
<circle class="oc" cx="838.4" cy="452.5" r="2.8"/>
<circle class="fc" cx="844.0" cy="448.0" r="2.75"/>
<circle class="oc" cx="855.6" cy="438.4" r="2.8"/>
<circle class="oc" cx="859.5" cy="429.4" r="2.8"/>
<circle class="oc" cx="892.0" cy="424.4" r="2.8"/>
<circle class="fc" cx="941.0" cy="410.0" r="2.75"/>
<circle class="oc" cx="913.0" cy="424.4" r="2.8"/>
<circle class="oc" cx="934.4" cy="424.4" r="2.8"/>
</g>
<text class="hr" x="202.9" y="690.8" textLength="14.2" lengthAdjust="spacingAndGlyphs">24</text>
<text class="hr" x="292.9" y="607.3" textLength="14.2" lengthAdjust="spacingAndGlyphs">48</text>
<text class="hr" x="674.3" y="506.3" textLength="21.3" lengthAdjust="spacingAndGlyphs">120</text>
<text class="hr" x="852.7" y="433.3" textLength="21.3" lengthAdjust="spacingAndGlyphs">144</text>
<text class="hr" x="833.3" y="464.3" textLength="21.3" lengthAdjust="spacingAndGlyphs">168</text>
<text class="hr" x="930.3" y="426.3" textLength="21.3" lengthAdjust="spacingAndGlyphs">192</text>
<text class="ml" x="910.5" y="419.3" textLength="47.8" lengthAdjust="spacingAndGlyphs" fill="#00d28c" stroke="#00d28c">AEMN</text>
<g fill="#8200dc" stroke="#8200dc"><path class="trk" d="M193.5 749.5 L201.0 725.0 L214.0 704.0 L227.0 690.0 L244.0 668.0 L262.0 648.0 L282.0 629.0 L303.0 612.0 L340.0 590.0 L372.0 572.0 L410.0 553.0 L445.0 539.5 L481.5 533.5 L512.5 535.0 L543.0 536.0 L556.0 532.0 L650.5 441.0 L643.0 450.0 L648.5 474.0 L655.0 488.0 L653.0 508.0 L645.0 510.0 L637.0 505.5 L636.5 488.7 L635.0 473.0"/>
<circle class="oc" cx="201.0" cy="725.0" r="2.8"/>
<circle class="oc" cx="214.0" cy="704.0" r="2.8"/>
<circle class="fc" cx="227.0" cy="690.0" r="2.75"/>
<circle class="oc" cx="244.0" cy="668.0" r="2.8"/>
<circle class="oc" cx="262.0" cy="648.0" r="2.8"/>
<circle class="oc" cx="282.0" cy="629.0" r="2.8"/>
<circle class="fc" cx="303.0" cy="612.0" r="2.75"/>
<circle class="oc" cx="340.0" cy="590.0" r="2.8"/>
<circle class="oc" cx="372.0" cy="572.0" r="2.8"/>
<circle class="oc" cx="410.0" cy="553.0" r="2.8"/>
<circle class="fc" cx="445.0" cy="539.5" r="2.75"/>
<circle class="oc" cx="481.5" cy="533.5" r="2.8"/>
<circle class="oc" cx="512.5" cy="535.0" r="2.8"/>
<circle class="oc" cx="543.0" cy="536.0" r="2.8"/>
<circle class="fc" cx="556.0" cy="532.0" r="2.75"/>
<circle class="oc" cx="650.5" cy="441.0" r="2.8"/>
<circle class="oc" cx="643.0" cy="450.0" r="2.8"/>
<circle class="fc" cx="648.5" cy="474.0" r="2.75"/>
<circle class="oc" cx="655.0" cy="488.0" r="2.8"/>
<circle class="fc" cx="653.0" cy="508.0" r="2.75"/>
<circle class="oc" cx="645.0" cy="510.0" r="2.8"/>
<circle class="fc" cx="637.0" cy="505.5" r="2.75"/>
<circle class="oc" cx="636.5" cy="488.7" r="2.8"/>
<circle class="fc" cx="635.0" cy="473.0" r="2.75"/>
</g>
<text class="hr" x="219.9" y="706.3" textLength="14.2" lengthAdjust="spacingAndGlyphs">24</text>
<text class="hr" x="295.9" y="628.3" textLength="14.2" lengthAdjust="spacingAndGlyphs">48</text>
<text class="hr" x="437.9" y="555.8" textLength="14.2" lengthAdjust="spacingAndGlyphs">72</text>
<text class="hr" x="548.9" y="548.3" textLength="14.2" lengthAdjust="spacingAndGlyphs">96</text>
<text class="hr" x="637.8" y="490.3" textLength="21.3" lengthAdjust="spacingAndGlyphs">120</text>
<text class="hr" x="642.3" y="524.3" textLength="21.3" lengthAdjust="spacingAndGlyphs">144</text>
<text class="hr" x="626.3" y="521.8" textLength="21.3" lengthAdjust="spacingAndGlyphs">168</text>
<text class="ml" x="612.1" y="467.9" textLength="45.7" lengthAdjust="spacingAndGlyphs" fill="#8200dc" stroke="#8200dc">AVNO</text>
<g fill="#fa3c3c" stroke="#fa3c3c"><path class="trk" d="M193.5 749.5 L213.0 729.0 L238.0 702.0 L290.0 650.0 L354.4 600.0 L441.0 560.0 L543.0 526.0 L653.7 497.5 L772.0 481.5 L896.0 472.0 L1005.5 446.0"/>
<circle class="oc" cx="213.0" cy="729.0" r="2.8"/>
<circle class="fc" cx="238.0" cy="702.0" r="2.75"/>
<circle class="oc" cx="290.0" cy="650.0" r="2.8"/>
<circle class="fc" cx="354.4" cy="600.0" r="2.75"/>
<circle class="oc" cx="441.0" cy="560.0" r="2.8"/>
<circle class="fc" cx="543.0" cy="526.0" r="2.75"/>
<circle class="oc" cx="653.7" cy="497.5" r="2.8"/>
<circle class="fc" cx="772.0" cy="481.5" r="2.75"/>
<circle class="oc" cx="896.0" cy="472.0" r="2.8"/>
<circle class="fc" cx="1005.5" cy="446.0" r="2.75"/>
</g>
<text class="hr" x="230.9" y="718.3" textLength="14.2" lengthAdjust="spacingAndGlyphs">24</text>
<text class="hr" x="347.3" y="616.3" textLength="14.2" lengthAdjust="spacingAndGlyphs">48</text>
<text class="hr" x="535.9" y="542.3" textLength="14.2" lengthAdjust="spacingAndGlyphs">72</text>
<text class="hr" x="764.9" y="497.8" textLength="14.2" lengthAdjust="spacingAndGlyphs">96</text>
<text class="hr" x="994.8" y="462.3" textLength="21.3" lengthAdjust="spacingAndGlyphs">120</text>
<text class="ml" x="981.6" y="440.9" textLength="47.8" lengthAdjust="spacingAndGlyphs" fill="#fa3c3c" stroke="#fa3c3c">BAMD</text>
<g fill="#00dc00" stroke="#00dc00"><path class="trk" d="M193.5 749.5 L210.0 733.0 L233.0 708.0 L262.0 676.0 L300.0 648.0 L345.0 628.0 L427.5 627.0 L480.5 641.5 L518.0 664.5 L535.0 672.0 L550.5 684.5 L579.5 706.0"/>
<circle class="oc" cx="210.0" cy="733.0" r="2.8"/>
<circle class="fc" cx="233.0" cy="708.0" r="2.75"/>
<circle class="oc" cx="262.0" cy="676.0" r="2.8"/>
<circle class="fc" cx="300.0" cy="648.0" r="2.75"/>
<circle class="oc" cx="345.0" cy="628.0" r="2.8"/>
<circle class="fc" cx="427.5" cy="627.0" r="2.75"/>
<circle class="oc" cx="480.5" cy="641.5" r="2.8"/>
<circle class="fc" cx="518.0" cy="664.5" r="2.75"/>
<circle class="oc" cx="535.0" cy="672.0" r="2.8"/>
<circle class="oc" cx="550.5" cy="684.5" r="2.8"/>
<circle class="fc" cx="579.5" cy="706.0" r="2.75"/>
</g>
<text class="hr" x="225.9" y="724.3" textLength="14.2" lengthAdjust="spacingAndGlyphs">24</text>
<text class="hr" x="292.9" y="664.3" textLength="14.2" lengthAdjust="spacingAndGlyphs">48</text>
<text class="hr" x="420.4" y="643.3" textLength="14.2" lengthAdjust="spacingAndGlyphs">72</text>
<text class="hr" x="510.9" y="680.8" textLength="14.2" lengthAdjust="spacingAndGlyphs">96</text>
<text class="hr" x="568.8" y="722.3" textLength="21.3" lengthAdjust="spacingAndGlyphs">120</text>
<text class="ml" x="554.7" y="700.9" textLength="49.7" lengthAdjust="spacingAndGlyphs" fill="#00dc00" stroke="#00dc00">BAMM</text>
<g fill="#1e3cff" stroke="#1e3cff"><path class="trk" d="M193.5 749.5 L212.0 730.0 L232.0 703.0 L252.0 680.0 L270.0 664.5 L281.5 662.5 L326.0 662.5 L364.5 674.0 L395.5 696.0 L414.0 714.5 L433.5 738.0 L448.5 760.5"/>
<circle class="oc" cx="212.0" cy="730.0" r="2.8"/>
<circle class="fc" cx="232.0" cy="703.0" r="2.75"/>
<circle class="oc" cx="252.0" cy="680.0" r="2.8"/>
<circle class="oc" cx="270.0" cy="664.5" r="2.8"/>
<circle class="fc" cx="281.5" cy="662.5" r="2.75"/>
<circle class="oc" cx="326.0" cy="662.5" r="2.8"/>
<circle class="fc" cx="364.5" cy="674.0" r="2.75"/>
<circle class="oc" cx="395.5" cy="696.0" r="2.8"/>
<circle class="fc" cx="414.0" cy="714.5" r="2.75"/>
<circle class="oc" cx="433.5" cy="738.0" r="2.8"/>
<circle class="fc" cx="448.5" cy="760.5" r="2.75"/>
</g>
<text class="hr" x="224.9" y="719.3" textLength="14.2" lengthAdjust="spacingAndGlyphs">24</text>
<text class="hr" x="274.4" y="678.8" textLength="14.2" lengthAdjust="spacingAndGlyphs">48</text>
<text class="hr" x="357.4" y="690.3" textLength="14.2" lengthAdjust="spacingAndGlyphs">72</text>
<text class="hr" x="406.9" y="730.8" textLength="14.2" lengthAdjust="spacingAndGlyphs">96</text>
<text class="hr" x="437.8" y="776.8" textLength="21.3" lengthAdjust="spacingAndGlyphs">120</text>
<text class="ml" x="425.0" y="755.4" textLength="46.9" lengthAdjust="spacingAndGlyphs" fill="#1e3cff" stroke="#1e3cff">BAMS</text>
<g fill="#00c8c8" stroke="#00c8c8"><path class="trk" d="M193.5 749.5 L201.0 731.0 L223.0 703.0 L243.0 677.0 L264.5 651.0 L284.0 629.0 L303.0 608.0 L325.0 585.0 L346.0 563.0 L370.0 538.0 L392.5 514.5"/>
<circle class="oc" cx="201.0" cy="731.0" r="2.8"/>
<circle class="fc" cx="223.0" cy="703.0" r="2.75"/>
<circle class="oc" cx="243.0" cy="677.0" r="2.8"/>
<circle class="fc" cx="264.5" cy="651.0" r="2.75"/>
<circle class="oc" cx="284.0" cy="629.0" r="2.8"/>
<circle class="fc" cx="303.0" cy="608.0" r="2.75"/>
<circle class="oc" cx="325.0" cy="585.0" r="2.8"/>
<circle class="fc" cx="346.0" cy="563.0" r="2.75"/>
<circle class="oc" cx="370.0" cy="538.0" r="2.8"/>
<circle class="fc" cx="392.5" cy="514.5" r="2.75"/>
</g>
<text class="hr" x="215.9" y="719.3" textLength="14.2" lengthAdjust="spacingAndGlyphs">24</text>
<text class="hr" x="257.4" y="667.3" textLength="14.2" lengthAdjust="spacingAndGlyphs">48</text>
<text class="hr" x="295.9" y="624.3" textLength="14.2" lengthAdjust="spacingAndGlyphs">72</text>
<text class="hr" x="338.9" y="579.3" textLength="14.2" lengthAdjust="spacingAndGlyphs">96</text>
<text class="hr" x="381.8" y="530.8" textLength="21.3" lengthAdjust="spacingAndGlyphs">120</text>
<text class="ml" x="370.4" y="509.4" textLength="44.2" lengthAdjust="spacingAndGlyphs" fill="#00c8c8" stroke="#00c8c8">BCD5</text>
<g fill="#f00082" stroke="#f00082"><path class="trk" d="M193.5 749.5 L200.0 730.0 L221.0 702.0 L241.0 676.0 L262.0 650.0 L281.0 628.0 L300.0 607.0 L322.0 584.0 L343.0 562.0 L367.0 537.0 L389.4 514.0"/>
<circle class="oc" cx="200.0" cy="730.0" r="2.8"/>
<circle class="fc" cx="221.0" cy="702.0" r="2.75"/>
<circle class="oc" cx="241.0" cy="676.0" r="2.8"/>
<circle class="fc" cx="262.0" cy="650.0" r="2.75"/>
<circle class="oc" cx="281.0" cy="628.0" r="2.8"/>
<circle class="fc" cx="300.0" cy="607.0" r="2.75"/>
<circle class="oc" cx="322.0" cy="584.0" r="2.8"/>
<circle class="fc" cx="343.0" cy="562.0" r="2.75"/>
<circle class="oc" cx="367.0" cy="537.0" r="2.8"/>
<circle class="fc" cx="389.4" cy="514.0" r="2.75"/>
</g>
<text class="hr" x="213.9" y="718.3" textLength="14.2" lengthAdjust="spacingAndGlyphs">24</text>
<text class="hr" x="254.9" y="666.3" textLength="14.2" lengthAdjust="spacingAndGlyphs">48</text>
<text class="hr" x="292.9" y="623.3" textLength="14.2" lengthAdjust="spacingAndGlyphs">72</text>
<text class="hr" x="335.9" y="578.3" textLength="14.2" lengthAdjust="spacingAndGlyphs">96</text>
<text class="hr" x="378.7" y="530.3" textLength="21.3" lengthAdjust="spacingAndGlyphs">120</text>
<text class="ml" x="367.8" y="508.9" textLength="43.3" lengthAdjust="spacingAndGlyphs" fill="#f00082" stroke="#f00082">BCS5</text>
<g fill="#e6dc32" stroke="#e6dc32"><path class="trk" d="M193.5 749.5 L199.0 728.0 L210.0 702.0 L228.0 676.0 L248.0 648.0 L275.0 618.0 L305.0 590.0 L336.0 566.0 L365.0 547.0"/>
<circle class="oc" cx="199.0" cy="728.0" r="2.8"/>
<circle class="fc" cx="210.0" cy="702.0" r="2.75"/>
<circle class="oc" cx="228.0" cy="676.0" r="2.8"/>
<circle class="fc" cx="248.0" cy="648.0" r="2.75"/>
<circle class="oc" cx="275.0" cy="618.0" r="2.8"/>
<circle class="fc" cx="305.0" cy="590.0" r="2.75"/>
<circle class="oc" cx="336.0" cy="566.0" r="2.8"/>
<circle class="fc" cx="365.0" cy="547.0" r="2.75"/>
</g>
<text class="hr" x="202.9" y="718.3" textLength="14.2" lengthAdjust="spacingAndGlyphs">24</text>
<text class="hr" x="240.9" y="664.3" textLength="14.2" lengthAdjust="spacingAndGlyphs">48</text>
<text class="hr" x="297.9" y="606.3" textLength="14.2" lengthAdjust="spacingAndGlyphs">72</text>
<text class="hr" x="357.9" y="563.3" textLength="14.2" lengthAdjust="spacingAndGlyphs">96</text>
<text class="ml" x="346.6" y="541.9" textLength="36.8" lengthAdjust="spacingAndGlyphs" fill="#e6dc32" stroke="#e6dc32">CLIP</text>
<g fill="#f08228" stroke="#f08228"><path class="trk" d="M193.5 749.5 L205.0 730.0 L231.0 699.0 L258.0 666.0 L287.0 636.0 L320.0 605.0 L354.0 576.0 L386.0 552.0 L416.0 528.0 L443.0 502.0 L468.0 478.0"/>
<circle class="oc" cx="205.0" cy="730.0" r="2.8"/>
<circle class="fc" cx="231.0" cy="699.0" r="2.75"/>
<circle class="oc" cx="258.0" cy="666.0" r="2.8"/>
<circle class="fc" cx="287.0" cy="636.0" r="2.75"/>
<circle class="oc" cx="320.0" cy="605.0" r="2.8"/>
<circle class="fc" cx="354.0" cy="576.0" r="2.75"/>
<circle class="oc" cx="386.0" cy="552.0" r="2.8"/>
<circle class="fc" cx="416.0" cy="528.0" r="2.75"/>
<circle class="oc" cx="443.0" cy="502.0" r="2.8"/>
<circle class="fc" cx="468.0" cy="478.0" r="2.75"/>
</g>
<text class="hr" x="223.9" y="715.3" textLength="14.2" lengthAdjust="spacingAndGlyphs">24</text>
<text class="hr" x="279.9" y="652.3" textLength="14.2" lengthAdjust="spacingAndGlyphs">48</text>
<text class="hr" x="346.9" y="592.3" textLength="14.2" lengthAdjust="spacingAndGlyphs">72</text>
<text class="hr" x="408.9" y="544.3" textLength="14.2" lengthAdjust="spacingAndGlyphs">96</text>
<text class="hr" x="457.3" y="494.3" textLength="21.3" lengthAdjust="spacingAndGlyphs">120</text>
<text class="ml" x="447.3" y="472.9" textLength="41.4" lengthAdjust="spacingAndGlyphs" fill="#f08228" stroke="#f08228">CLP5</text>
<g fill="#a000c8" stroke="#a000c8"><path class="trk" d="M193.5 749.5 L204.0 727.0 L229.0 697.0 L264.0 658.0 L310.0 620.0 L356.0 594.0 L406.5 569.0 L483.0 548.0 L560.0 529.0 L621.0 517.0 L665.6 517.0"/>
<circle class="oc" cx="204.0" cy="727.0" r="2.8"/>
<circle class="fc" cx="229.0" cy="697.0" r="2.75"/>
<circle class="oc" cx="264.0" cy="658.0" r="2.8"/>
<circle class="fc" cx="310.0" cy="620.0" r="2.75"/>
<circle class="oc" cx="356.0" cy="594.0" r="2.8"/>
<circle class="fc" cx="406.5" cy="569.0" r="2.75"/>
<circle class="oc" cx="483.0" cy="548.0" r="2.8"/>
<circle class="fc" cx="560.0" cy="529.0" r="2.75"/>
<circle class="oc" cx="621.0" cy="517.0" r="2.8"/>
<circle class="fc" cx="665.6" cy="517.0" r="2.75"/>
</g>
<text class="hr" x="221.9" y="713.3" textLength="14.2" lengthAdjust="spacingAndGlyphs">24</text>
<text class="hr" x="302.9" y="636.3" textLength="14.2" lengthAdjust="spacingAndGlyphs">48</text>
<text class="hr" x="399.4" y="585.3" textLength="14.2" lengthAdjust="spacingAndGlyphs">72</text>
<text class="hr" x="552.9" y="545.3" textLength="14.2" lengthAdjust="spacingAndGlyphs">96</text>
<text class="hr" x="654.9" y="533.3" textLength="21.3" lengthAdjust="spacingAndGlyphs">120</text>
<text class="ml" x="641.2" y="511.9" textLength="48.8" lengthAdjust="spacingAndGlyphs" fill="#a000c8" stroke="#a000c8">CONU</text>
<g fill="#a0e632" stroke="#a0e632"><path class="trk" d="M193.5 749.5 L199.5 720.5 L220.0 690.0 L253.0 653.0 L297.0 615.0 L423.5 550.5 L577.5 527.0 L668.5 496.3 L760.0 467.5"/>
<circle class="oc" cx="199.5" cy="720.5" r="2.8"/>
<circle class="fc" cx="220.0" cy="690.0" r="2.75"/>
<circle class="oc" cx="253.0" cy="653.0" r="2.8"/>
<circle class="fc" cx="297.0" cy="615.0" r="2.75"/>
<circle class="fc" cx="423.5" cy="550.5" r="2.75"/>
<circle class="fc" cx="577.5" cy="527.0" r="2.75"/>
<circle class="oc" cx="668.5" cy="496.3" r="2.8"/>
<circle class="fc" cx="760.0" cy="467.5" r="2.75"/>
</g>
<text class="hr" x="212.9" y="706.3" textLength="14.2" lengthAdjust="spacingAndGlyphs">24</text>
<text class="hr" x="289.9" y="631.3" textLength="14.2" lengthAdjust="spacingAndGlyphs">48</text>
<text class="hr" x="416.4" y="566.8" textLength="14.2" lengthAdjust="spacingAndGlyphs">72</text>
<text class="hr" x="570.4" y="543.3" textLength="14.2" lengthAdjust="spacingAndGlyphs">96</text>
<text class="hr" x="749.3" y="483.8" textLength="21.3" lengthAdjust="spacingAndGlyphs">120</text>
<text class="ml" x="737.5" y="462.4" textLength="45.1" lengthAdjust="spacingAndGlyphs" fill="#a0e632" stroke="#a0e632">DRCL</text>
<g fill="#00a0ff" stroke="#00a0ff"><path class="trk" d="M193.5 749.5 L205.0 722.0 L231.0 690.0 L267.5 641.0 L331.3 593.5 L400.0 558.0 L470.0 526.5 L546.5 498.0 L631.0 460.0 L717.5 417.0 L806.0 372.0"/>
<circle class="oc" cx="205.0" cy="722.0" r="2.8"/>
<circle class="fc" cx="231.0" cy="690.0" r="2.75"/>
<circle class="oc" cx="267.5" cy="641.0" r="2.8"/>
<circle class="fc" cx="331.3" cy="593.5" r="2.75"/>
<circle class="oc" cx="400.0" cy="558.0" r="2.8"/>
<circle class="fc" cx="470.0" cy="526.5" r="2.75"/>
<circle class="oc" cx="546.5" cy="498.0" r="2.8"/>
<circle class="fc" cx="631.0" cy="460.0" r="2.75"/>
<circle class="oc" cx="717.5" cy="417.0" r="2.8"/>
<circle class="fc" cx="806.0" cy="372.0" r="2.75"/>
</g>
<text class="hr" x="223.9" y="706.3" textLength="14.2" lengthAdjust="spacingAndGlyphs">24</text>
<text class="hr" x="324.2" y="609.8" textLength="14.2" lengthAdjust="spacingAndGlyphs">48</text>
<text class="hr" x="462.9" y="542.8" textLength="14.2" lengthAdjust="spacingAndGlyphs">72</text>
<text class="hr" x="623.9" y="476.3" textLength="14.2" lengthAdjust="spacingAndGlyphs">96</text>
<text class="hr" x="795.3" y="388.3" textLength="21.3" lengthAdjust="spacingAndGlyphs">120</text>
<text class="ml" x="783.0" y="366.9" textLength="46.0" lengthAdjust="spacingAndGlyphs" fill="#00a0ff" stroke="#00a0ff">DSHP</text>
<g fill="#e6af2d" stroke="#e6af2d"><path class="trk" d="M193.5 749.5 L205.0 722.0 L231.0 690.0 L267.5 641.0 L331.3 593.5 L400.0 558.0 L470.0 526.5 L546.5 498.0 L631.0 460.0 L717.5 417.0 L806.0 372.0"/>
<circle class="oc" cx="205.0" cy="722.0" r="2.8"/>
<circle class="fc" cx="231.0" cy="690.0" r="2.75"/>
<circle class="oc" cx="267.5" cy="641.0" r="2.8"/>
<circle class="fc" cx="331.3" cy="593.5" r="2.75"/>
<circle class="oc" cx="400.0" cy="558.0" r="2.8"/>
<circle class="fc" cx="470.0" cy="526.5" r="2.75"/>
<circle class="oc" cx="546.5" cy="498.0" r="2.8"/>
<circle class="fc" cx="631.0" cy="460.0" r="2.75"/>
<circle class="oc" cx="717.5" cy="417.0" r="2.8"/>
<circle class="fc" cx="806.0" cy="372.0" r="2.75"/>
</g>
<text class="hr" x="223.9" y="706.3" textLength="14.2" lengthAdjust="spacingAndGlyphs">24</text>
<text class="hr" x="324.2" y="609.8" textLength="14.2" lengthAdjust="spacingAndGlyphs">48</text>
<text class="hr" x="462.9" y="542.8" textLength="14.2" lengthAdjust="spacingAndGlyphs">72</text>
<text class="hr" x="623.9" y="476.3" textLength="14.2" lengthAdjust="spacingAndGlyphs">96</text>
<text class="hr" x="795.3" y="388.3" textLength="21.3" lengthAdjust="spacingAndGlyphs">120</text>
<text class="ml" x="783.0" y="366.9" textLength="46.0" lengthAdjust="spacingAndGlyphs" fill="#e6af2d" stroke="#e6af2d">DSNS</text>
<g fill="#8200dc" stroke="#8200dc"><path class="trk" d="M193.5 749.5 L201.0 725.0 L215.0 703.0 L228.0 688.0 L250.0 662.0 L272.0 638.0 L298.0 614.0 L325.0 593.0 L350.0 573.0 L374.0 556.0 L398.0 540.0 L420.0 525.0 L454.5 508.0 L483.0 489.0 L511.0 469.5 L535.0 464.0 L555.0 464.0 L570.0 472.0 L583.0 487.0 L592.0 500.0"/>
<circle class="oc" cx="201.0" cy="725.0" r="2.8"/>
<circle class="oc" cx="215.0" cy="703.0" r="2.8"/>
<circle class="fc" cx="228.0" cy="688.0" r="2.75"/>
<circle class="oc" cx="250.0" cy="662.0" r="2.8"/>
<circle class="oc" cx="272.0" cy="638.0" r="2.8"/>
<circle class="oc" cx="298.0" cy="614.0" r="2.8"/>
<circle class="fc" cx="325.0" cy="593.0" r="2.75"/>
<circle class="oc" cx="350.0" cy="573.0" r="2.8"/>
<circle class="oc" cx="374.0" cy="556.0" r="2.8"/>
<circle class="oc" cx="398.0" cy="540.0" r="2.8"/>
<circle class="fc" cx="420.0" cy="525.0" r="2.75"/>
<circle class="oc" cx="454.5" cy="508.0" r="2.8"/>
<circle class="oc" cx="483.0" cy="489.0" r="2.8"/>
<circle class="fc" cx="511.0" cy="469.5" r="2.75"/>
<circle class="oc" cx="535.0" cy="464.0" r="2.8"/>
<circle class="oc" cx="555.0" cy="464.0" r="2.8"/>
<circle class="oc" cx="570.0" cy="472.0" r="2.8"/>
<circle class="fc" cx="583.0" cy="487.0" r="2.75"/>
<circle class="oc" cx="592.0" cy="500.0" r="2.8"/>
</g>
<text class="hr" x="220.9" y="704.3" textLength="14.2" lengthAdjust="spacingAndGlyphs">24</text>
<text class="hr" x="317.9" y="609.3" textLength="14.2" lengthAdjust="spacingAndGlyphs">48</text>
<text class="hr" x="412.9" y="541.3" textLength="14.2" lengthAdjust="spacingAndGlyphs">72</text>
<text class="hr" x="503.9" y="485.8" textLength="14.2" lengthAdjust="spacingAndGlyphs">96</text>
<text class="hr" x="572.3" y="503.3" textLength="21.3" lengthAdjust="spacingAndGlyphs">120</text>
<text class="ml" x="569.9" y="494.9" textLength="44.2" lengthAdjust="spacingAndGlyphs" fill="#8200dc" stroke="#8200dc">GFDL</text>
<g fill="#fa3c3c" stroke="#fa3c3c"><path class="trk" d="M193.5 749.5 L203.0 727.0 L218.0 705.0 L232.0 691.0 L255.0 666.0 L278.0 642.0 L305.0 619.0 L333.8 598.8 L357.0 578.0 L380.0 560.0 L403.0 544.0 L425.0 528.0 L460.0 509.0 L489.0 490.0 L517.5 470.0 L540.0 465.0 L559.0 466.0 L574.0 474.0 L587.0 489.0 L598.0 502.0"/>
<circle class="oc" cx="203.0" cy="727.0" r="2.8"/>
<circle class="oc" cx="218.0" cy="705.0" r="2.8"/>
<circle class="fc" cx="232.0" cy="691.0" r="2.75"/>
<circle class="oc" cx="255.0" cy="666.0" r="2.8"/>
<circle class="oc" cx="278.0" cy="642.0" r="2.8"/>
<circle class="oc" cx="305.0" cy="619.0" r="2.8"/>
<circle class="fc" cx="333.8" cy="598.8" r="2.75"/>
<circle class="oc" cx="357.0" cy="578.0" r="2.8"/>
<circle class="oc" cx="380.0" cy="560.0" r="2.8"/>
<circle class="oc" cx="403.0" cy="544.0" r="2.8"/>
<circle class="fc" cx="425.0" cy="528.0" r="2.75"/>
<circle class="oc" cx="460.0" cy="509.0" r="2.8"/>
<circle class="oc" cx="489.0" cy="490.0" r="2.8"/>
<circle class="fc" cx="517.5" cy="470.0" r="2.75"/>
<circle class="oc" cx="540.0" cy="465.0" r="2.8"/>
<circle class="oc" cx="559.0" cy="466.0" r="2.8"/>
<circle class="oc" cx="574.0" cy="474.0" r="2.8"/>
<circle class="fc" cx="587.0" cy="489.0" r="2.75"/>
<circle class="oc" cx="598.0" cy="502.0" r="2.8"/>
</g>
<text class="hr" x="224.9" y="707.3" textLength="14.2" lengthAdjust="spacingAndGlyphs">24</text>
<text class="hr" x="326.7" y="615.1" textLength="14.2" lengthAdjust="spacingAndGlyphs">48</text>
<text class="hr" x="417.9" y="544.3" textLength="14.2" lengthAdjust="spacingAndGlyphs">72</text>
<text class="hr" x="510.4" y="486.3" textLength="14.2" lengthAdjust="spacingAndGlyphs">96</text>
<text class="hr" x="576.3" y="505.3" textLength="21.3" lengthAdjust="spacingAndGlyphs">120</text>
<text class="ml" x="575.5" y="496.9" textLength="45.1" lengthAdjust="spacingAndGlyphs" fill="#fa3c3c" stroke="#fa3c3c">GFDT</text>
<g fill="#00dc00" stroke="#00dc00"><path class="trk" d="M193.5 749.5 L203.0 725.0 L226.0 692.0 L260.0 648.0 L303.8 601.3 L335.0 578.0 L366.0 558.0"/>
<circle class="oc" cx="203.0" cy="725.0" r="2.8"/>
<circle class="fc" cx="226.0" cy="692.0" r="2.75"/>
<circle class="oc" cx="260.0" cy="648.0" r="2.8"/>
<circle class="fc" cx="303.8" cy="601.3" r="2.75"/>
<circle class="oc" cx="335.0" cy="578.0" r="2.8"/>
<circle class="fc" cx="366.0" cy="558.0" r="2.75"/>
</g>
<text class="hr" x="218.9" y="708.3" textLength="14.2" lengthAdjust="spacingAndGlyphs">24</text>
<text class="hr" x="296.7" y="617.6" textLength="14.2" lengthAdjust="spacingAndGlyphs">48</text>
<text class="hr" x="358.9" y="574.3" textLength="14.2" lengthAdjust="spacingAndGlyphs">72</text>
<text class="ml" x="342.1" y="552.9" textLength="47.8" lengthAdjust="spacingAndGlyphs" fill="#00dc00" stroke="#00dc00">GUNA</text>
<g fill="#1e3cff" stroke="#1e3cff"><path class="trk" d="M193.5 749.5 L203.0 727.0 L212.0 694.0 L248.0 652.0 L291.3 607.0 L322.0 583.0 L348.8 562.5"/>
<circle class="oc" cx="203.0" cy="727.0" r="2.8"/>
<circle class="fc" cx="212.0" cy="694.0" r="2.75"/>
<circle class="oc" cx="248.0" cy="652.0" r="2.8"/>
<circle class="fc" cx="291.3" cy="607.0" r="2.75"/>
<circle class="oc" cx="322.0" cy="583.0" r="2.8"/>
<circle class="oc" cx="348.8" cy="562.5" r="2.8"/>
</g>
<text class="hr" x="204.9" y="710.3" textLength="14.2" lengthAdjust="spacingAndGlyphs">24</text>
<text class="hr" x="284.2" y="623.3" textLength="14.2" lengthAdjust="spacingAndGlyphs">48</text>
<text class="ml" x="324.9" y="557.4" textLength="47.8" lengthAdjust="spacingAndGlyphs" fill="#1e3cff" stroke="#1e3cff">GUNS</text>
<g fill="#00c8c8" stroke="#00c8c8"><path class="trk" d="M193.5 749.5 L202.0 722.0 L224.0 690.0 L259.0 645.0 L300.0 606.0 L345.0 570.0 L400.0 541.0 L498.5 500.5 L627.0 486.0 L750.0 505.5 L817.4 567.5"/>
<circle class="oc" cx="202.0" cy="722.0" r="2.8"/>
<circle class="fc" cx="224.0" cy="690.0" r="2.75"/>
<circle class="oc" cx="259.0" cy="645.0" r="2.8"/>
<circle class="fc" cx="300.0" cy="606.0" r="2.75"/>
<circle class="oc" cx="345.0" cy="570.0" r="2.8"/>
<circle class="fc" cx="400.0" cy="541.0" r="2.75"/>
<circle class="oc" cx="498.5" cy="500.5" r="2.8"/>
<circle class="fc" cx="627.0" cy="486.0" r="2.75"/>
<circle class="oc" cx="750.0" cy="505.5" r="2.8"/>
<circle class="fc" cx="817.4" cy="567.5" r="2.75"/>
</g>
<text class="hr" x="216.9" y="706.3" textLength="14.2" lengthAdjust="spacingAndGlyphs">24</text>
<text class="hr" x="292.9" y="622.3" textLength="14.2" lengthAdjust="spacingAndGlyphs">48</text>
<text class="hr" x="392.9" y="557.3" textLength="14.2" lengthAdjust="spacingAndGlyphs">72</text>
<text class="hr" x="619.9" y="502.3" textLength="14.2" lengthAdjust="spacingAndGlyphs">96</text>
<text class="hr" x="806.7" y="583.8" textLength="21.3" lengthAdjust="spacingAndGlyphs">120</text>
<text class="ml" x="795.8" y="562.4" textLength="43.3" lengthAdjust="spacingAndGlyphs" fill="#00c8c8" stroke="#00c8c8">LBAR</text>
<g fill="#f00082" stroke="#f00082"><path class="trk" d="M193.5 749.5 L204.0 729.0 L226.0 699.0 L257.0 662.0 L297.0 626.0 L350.0 592.0 L390.0 568.0 L423.0 551.0"/>
<circle class="oc" cx="204.0" cy="729.0" r="2.8"/>
<circle class="fc" cx="226.0" cy="699.0" r="2.75"/>
<circle class="oc" cx="257.0" cy="662.0" r="2.8"/>
<circle class="fc" cx="297.0" cy="626.0" r="2.75"/>
<circle class="oc" cx="350.0" cy="592.0" r="2.8"/>
<circle class="oc" cx="390.0" cy="568.0" r="2.8"/>
<circle class="fc" cx="423.0" cy="551.0" r="2.75"/>
</g>
<text class="hr" x="218.9" y="715.3" textLength="14.2" lengthAdjust="spacingAndGlyphs">24</text>
<text class="hr" x="289.9" y="642.3" textLength="14.2" lengthAdjust="spacingAndGlyphs">48</text>
<text class="hr" x="415.9" y="567.3" textLength="14.2" lengthAdjust="spacingAndGlyphs">72</text>
<text class="ml" x="399.5" y="545.9" textLength="46.9" lengthAdjust="spacingAndGlyphs" fill="#f00082" stroke="#f00082">MRCL</text>
<g fill="#e6dc32" stroke="#e6dc32"><path class="trk" d="M193.5 749.5 L197.0 725.0 L212.0 695.0 L233.6 672.0 L255.0 631.4 L284.4 601.0 L304.8 571.7 L331.0 545.6 L358.0 528.0 L392.5 507.0 L421.0 489.0 L449.0 474.0 L488.0 475.0 L520.0 480.0 L547.0 479.0 L562.0 479.0"/>
<circle class="oc" cx="197.0" cy="725.0" r="2.8"/>
<circle class="fc" cx="212.0" cy="695.0" r="2.75"/>
<circle class="oc" cx="233.6" cy="672.0" r="2.8"/>
<circle class="oc" cx="255.0" cy="631.4" r="2.8"/>
<circle class="fc" cx="284.4" cy="601.0" r="2.75"/>
<circle class="oc" cx="304.8" cy="571.7" r="2.8"/>
<circle class="oc" cx="331.0" cy="545.6" r="2.8"/>
<circle class="oc" cx="358.0" cy="528.0" r="2.8"/>
<circle class="fc" cx="392.5" cy="507.0" r="2.75"/>
<circle class="oc" cx="421.0" cy="489.0" r="2.8"/>
<circle class="oc" cx="449.0" cy="474.0" r="2.8"/>
<circle class="fc" cx="488.0" cy="475.0" r="2.75"/>
<circle class="oc" cx="520.0" cy="480.0" r="2.8"/>
<circle class="fc" cx="547.0" cy="479.0" r="2.75"/>
<circle class="fc" cx="562.0" cy="479.0" r="2.75"/>
</g>
<text class="hr" x="204.9" y="711.3" textLength="14.2" lengthAdjust="spacingAndGlyphs">24</text>
<text class="hr" x="277.3" y="617.3" textLength="14.2" lengthAdjust="spacingAndGlyphs">48</text>
<text class="hr" x="385.4" y="523.3" textLength="14.2" lengthAdjust="spacingAndGlyphs">72</text>
<text class="hr" x="480.9" y="491.3" textLength="14.2" lengthAdjust="spacingAndGlyphs">96</text>
<text class="hr" x="536.3" y="495.3" textLength="21.3" lengthAdjust="spacingAndGlyphs">120</text>
<text class="hr" x="551.3" y="495.3" textLength="21.3" lengthAdjust="spacingAndGlyphs">144</text>
<text class="ml" x="538.5" y="473.9" textLength="46.9" lengthAdjust="spacingAndGlyphs" fill="#e6dc32" stroke="#e6dc32">NGPS</text>
<g fill="#f08228" stroke="#f08228"><path class="trk" d="M193.5 749.5 L205.0 730.0 L231.0 699.0 L258.0 666.0 L287.0 636.0 L320.0 605.0 L354.0 576.0 L386.0 552.0 L416.0 528.0 L443.0 502.0 L468.0 478.0"/>
<circle class="oc" cx="205.0" cy="730.0" r="2.8"/>
<circle class="fc" cx="231.0" cy="699.0" r="2.75"/>
<circle class="oc" cx="258.0" cy="666.0" r="2.8"/>
<circle class="fc" cx="287.0" cy="636.0" r="2.75"/>
<circle class="oc" cx="320.0" cy="605.0" r="2.8"/>
<circle class="fc" cx="354.0" cy="576.0" r="2.75"/>
<circle class="oc" cx="386.0" cy="552.0" r="2.8"/>
<circle class="fc" cx="416.0" cy="528.0" r="2.75"/>
<circle class="oc" cx="443.0" cy="502.0" r="2.8"/>
<circle class="fc" cx="468.0" cy="478.0" r="2.75"/>
</g>
<text class="hr" x="223.9" y="715.3" textLength="14.2" lengthAdjust="spacingAndGlyphs">24</text>
<text class="hr" x="279.9" y="652.3" textLength="14.2" lengthAdjust="spacingAndGlyphs">48</text>
<text class="hr" x="346.9" y="592.3" textLength="14.2" lengthAdjust="spacingAndGlyphs">72</text>
<text class="hr" x="408.9" y="544.3" textLength="14.2" lengthAdjust="spacingAndGlyphs">96</text>
<text class="hr" x="457.3" y="494.3" textLength="21.3" lengthAdjust="spacingAndGlyphs">120</text>
<text class="ml" x="445.0" y="472.9" textLength="46.0" lengthAdjust="spacingAndGlyphs" fill="#f08228" stroke="#f08228">OCD5</text>
<g fill="#a000c8" stroke="#a000c8"><path class="trk" d="M193.5 749.5 L204.0 729.0 L232.0 697.0 L260.0 664.0 L289.4 633.8 L322.0 603.0 L356.3 574.4 L388.0 550.0 L418.0 526.5 L446.0 500.0 L471.5 477.0"/>
<circle class="oc" cx="204.0" cy="729.0" r="2.8"/>
<circle class="fc" cx="232.0" cy="697.0" r="2.75"/>
<circle class="oc" cx="260.0" cy="664.0" r="2.8"/>
<circle class="fc" cx="289.4" cy="633.8" r="2.75"/>
<circle class="oc" cx="322.0" cy="603.0" r="2.8"/>
<circle class="fc" cx="356.3" cy="574.4" r="2.75"/>
<circle class="oc" cx="388.0" cy="550.0" r="2.8"/>
<circle class="fc" cx="418.0" cy="526.5" r="2.75"/>
<circle class="oc" cx="446.0" cy="500.0" r="2.8"/>
<circle class="fc" cx="471.5" cy="477.0" r="2.75"/>
</g>
<text class="hr" x="224.9" y="713.3" textLength="14.2" lengthAdjust="spacingAndGlyphs">24</text>
<text class="hr" x="282.3" y="650.1" textLength="14.2" lengthAdjust="spacingAndGlyphs">48</text>
<text class="hr" x="349.2" y="590.7" textLength="14.2" lengthAdjust="spacingAndGlyphs">72</text>
<text class="hr" x="410.9" y="542.8" textLength="14.2" lengthAdjust="spacingAndGlyphs">96</text>
<text class="hr" x="460.8" y="493.3" textLength="21.3" lengthAdjust="spacingAndGlyphs">120</text>
<text class="ml" x="449.0" y="471.9" textLength="45.1" lengthAdjust="spacingAndGlyphs" fill="#a000c8" stroke="#a000c8">OCS5</text>
<g fill="#000000" stroke="#000000"><path class="trk" d="M193.5 749.5 L199.5 720.5 L220.0 690.0 L253.0 653.0 L297.0 615.0 L423.5 550.5 L577.5 527.0 L760.0 467.5"/>
<circle class="oc" cx="199.5" cy="720.5" r="2.8"/>
<circle class="fc" cx="220.0" cy="690.0" r="2.75"/>
<circle class="oc" cx="253.0" cy="653.0" r="2.8"/>
<circle class="fc" cx="297.0" cy="615.0" r="2.75"/>
<circle class="fc" cx="423.5" cy="550.5" r="2.75"/>
<circle class="fc" cx="577.5" cy="527.0" r="2.75"/>
<circle class="fc" cx="760.0" cy="467.5" r="2.75"/>
</g>
<text class="hb" x="212.9" y="706.3" textLength="14.2" lengthAdjust="spacingAndGlyphs">24</text>
<text class="hb" x="289.9" y="631.3" textLength="14.2" lengthAdjust="spacingAndGlyphs">48</text>
<text class="hb" x="416.4" y="566.8" textLength="14.2" lengthAdjust="spacingAndGlyphs">72</text>
<text class="hb" x="570.4" y="543.3" textLength="14.2" lengthAdjust="spacingAndGlyphs">96</text>
<text class="hb" x="749.3" y="483.8" textLength="21.3" lengthAdjust="spacingAndGlyphs">120</text>
<text class="ml" x="737.9" y="462.4" textLength="44.2" lengthAdjust="spacingAndGlyphs" fill="#000000" stroke="#000000">OFCL</text>
<g fill="#a0e632" stroke="#a0e632"><path class="trk" d="M193.5 749.5 L205.0 722.0 L231.0 690.0 L267.5 641.0 L331.3 593.5 L400.0 558.0 L470.0 526.5 L546.5 498.0 L631.0 460.0 L717.5 417.0 L806.0 372.0"/>
<circle class="oc" cx="205.0" cy="722.0" r="2.8"/>
<circle class="fc" cx="231.0" cy="690.0" r="2.75"/>
<circle class="oc" cx="267.5" cy="641.0" r="2.8"/>
<circle class="fc" cx="331.3" cy="593.5" r="2.75"/>
<circle class="oc" cx="400.0" cy="558.0" r="2.8"/>
<circle class="fc" cx="470.0" cy="526.5" r="2.75"/>
<circle class="oc" cx="546.5" cy="498.0" r="2.8"/>
<circle class="fc" cx="631.0" cy="460.0" r="2.75"/>
<circle class="oc" cx="717.5" cy="417.0" r="2.8"/>
<circle class="fc" cx="806.0" cy="372.0" r="2.75"/>
</g>
<text class="hr" x="223.9" y="706.3" textLength="14.2" lengthAdjust="spacingAndGlyphs">24</text>
<text class="hr" x="324.2" y="609.8" textLength="14.2" lengthAdjust="spacingAndGlyphs">48</text>
<text class="hr" x="462.9" y="542.8" textLength="14.2" lengthAdjust="spacingAndGlyphs">72</text>
<text class="hr" x="623.9" y="476.3" textLength="14.2" lengthAdjust="spacingAndGlyphs">96</text>
<text class="hr" x="795.3" y="388.3" textLength="21.3" lengthAdjust="spacingAndGlyphs">120</text>
<text class="ml" x="786.7" y="366.9" textLength="38.7" lengthAdjust="spacingAndGlyphs" fill="#a0e632" stroke="#a0e632">SHIP</text>
<g fill="#00a0ff" stroke="#00a0ff"><path class="trk" d="M193.5 749.5 L205.0 722.0 L231.0 690.0 L267.5 641.0 L331.3 593.5 L400.0 558.0 L470.0 526.5 L546.5 498.0 L631.0 460.0 L717.5 417.0 L806.0 372.0"/>
<circle class="oc" cx="205.0" cy="722.0" r="2.8"/>
<circle class="fc" cx="231.0" cy="690.0" r="2.75"/>
<circle class="oc" cx="267.5" cy="641.0" r="2.8"/>
<circle class="fc" cx="331.3" cy="593.5" r="2.75"/>
<circle class="oc" cx="400.0" cy="558.0" r="2.8"/>
<circle class="fc" cx="470.0" cy="526.5" r="2.75"/>
<circle class="oc" cx="546.5" cy="498.0" r="2.8"/>
<circle class="fc" cx="631.0" cy="460.0" r="2.75"/>
<circle class="oc" cx="717.5" cy="417.0" r="2.8"/>
<circle class="fc" cx="806.0" cy="372.0" r="2.75"/>
</g>
<text class="hr" x="223.9" y="706.3" textLength="14.2" lengthAdjust="spacingAndGlyphs">24</text>
<text class="hr" x="324.2" y="609.8" textLength="14.2" lengthAdjust="spacingAndGlyphs">48</text>
<text class="hr" x="462.9" y="542.8" textLength="14.2" lengthAdjust="spacingAndGlyphs">72</text>
<text class="hr" x="623.9" y="476.3" textLength="14.2" lengthAdjust="spacingAndGlyphs">96</text>
<text class="hr" x="795.3" y="388.3" textLength="21.3" lengthAdjust="spacingAndGlyphs">120</text>
<text class="ml" x="783.0" y="366.9" textLength="46.0" lengthAdjust="spacingAndGlyphs" fill="#00a0ff" stroke="#00a0ff">SHNS</text>
<g fill="#e6af2d" stroke="#e6af2d"><path class="trk" d="M193.5 749.5 L199.0 724.0 L217.0 693.0 L240.0 656.0 L269.4 617.0 L318.0 576.0 L345.0 553.0 L377.5 531.0 L412.5 514.0 L450.0 495.0 L485.0 478.0 L517.5 460.0 L542.5 443.0 L564.0 436.0 L587.0 436.0 L606.0 439.0 L621.0 443.0"/>
<circle class="oc" cx="199.0" cy="724.0" r="2.8"/>
<circle class="fc" cx="217.0" cy="693.0" r="2.75"/>
<circle class="oc" cx="240.0" cy="656.0" r="2.8"/>
<circle class="fc" cx="269.4" cy="617.0" r="2.75"/>
<circle class="oc" cx="318.0" cy="576.0" r="2.8"/>
<circle class="oc" cx="345.0" cy="553.0" r="2.8"/>
<circle class="fc" cx="377.5" cy="531.0" r="2.75"/>
<circle class="oc" cx="412.5" cy="514.0" r="2.8"/>
<circle class="oc" cx="450.0" cy="495.0" r="2.8"/>
<circle class="oc" cx="485.0" cy="478.0" r="2.8"/>
<circle class="fc" cx="517.5" cy="460.0" r="2.75"/>
<circle class="oc" cx="542.5" cy="443.0" r="2.8"/>
<circle class="oc" cx="564.0" cy="436.0" r="2.8"/>
<circle class="oc" cx="587.0" cy="436.0" r="2.8"/>
<circle class="fc" cx="606.0" cy="439.0" r="2.75"/>
<circle class="oc" cx="621.0" cy="443.0" r="2.8"/>
</g>
<text class="hr" x="209.9" y="709.3" textLength="14.2" lengthAdjust="spacingAndGlyphs">24</text>
<text class="hr" x="262.3" y="633.3" textLength="14.2" lengthAdjust="spacingAndGlyphs">48</text>
<text class="hr" x="370.4" y="547.3" textLength="14.2" lengthAdjust="spacingAndGlyphs">72</text>
<text class="hr" x="510.4" y="476.3" textLength="14.2" lengthAdjust="spacingAndGlyphs">96</text>
<text class="hr" x="595.3" y="455.3" textLength="21.3" lengthAdjust="spacingAndGlyphs">120</text>
<text class="ml" x="597.5" y="437.9" textLength="46.9" lengthAdjust="spacingAndGlyphs" fill="#e6af2d" stroke="#e6af2d">GFDN</text>
<g fill="#00d28c" stroke="#00d28c"><path class="trk" d="M193.5 749.5 L196.0 728.0 L208.0 700.0 L222.0 680.0 L240.0 658.0 L262.0 634.0 L290.0 607.0 L318.0 585.0 L343.5 567.5"/>
<circle class="oc" cx="196.0" cy="728.0" r="2.8"/>
<circle class="oc" cx="208.0" cy="700.0" r="2.8"/>
<circle class="fc" cx="222.0" cy="680.0" r="2.75"/>
<circle class="oc" cx="240.0" cy="658.0" r="2.8"/>
<circle class="oc" cx="262.0" cy="634.0" r="2.8"/>
<circle class="fc" cx="290.0" cy="607.0" r="2.75"/>
<circle class="oc" cx="318.0" cy="585.0" r="2.8"/>
<circle class="oc" cx="343.5" cy="567.5" r="2.8"/>
</g>
<text class="hr" x="214.9" y="696.3" textLength="14.2" lengthAdjust="spacingAndGlyphs">24</text>
<text class="hr" x="282.9" y="623.3" textLength="14.2" lengthAdjust="spacingAndGlyphs">48</text>
<text class="ml" x="321.0" y="562.4" textLength="45.1" lengthAdjust="spacingAndGlyphs" fill="#00d28c" stroke="#00d28c">COAL</text>
<g fill="#8200dc" stroke="#8200dc"><path class="trk" d="M193.5 749.5 L230.0 722.0 L266.0 687.0 L307.0 646.0 L343.0 620.0 L452.5 574.5 L644.5 551.0 L836.5 527.0"/>
<circle class="oc" cx="230.0" cy="722.0" r="2.8"/>
<circle class="fc" cx="266.0" cy="687.0" r="2.75"/>
<circle class="oc" cx="307.0" cy="646.0" r="2.8"/>
<circle class="fc" cx="343.0" cy="620.0" r="2.75"/>
<circle class="fc" cx="452.5" cy="574.5" r="2.75"/>
<circle class="fc" cx="644.5" cy="551.0" r="2.75"/>
<circle class="fc" cx="836.5" cy="527.0" r="2.75"/>
</g>
<text class="hr" x="258.9" y="703.3" textLength="14.2" lengthAdjust="spacingAndGlyphs">24</text>
<text class="hr" x="335.9" y="636.3" textLength="14.2" lengthAdjust="spacingAndGlyphs">48</text>
<text class="hr" x="445.4" y="590.8" textLength="14.2" lengthAdjust="spacingAndGlyphs">72</text>
<text class="hr" x="637.4" y="567.3" textLength="14.2" lengthAdjust="spacingAndGlyphs">96</text>
<text class="hr" x="825.8" y="543.3" textLength="21.3" lengthAdjust="spacingAndGlyphs">120</text>
<text class="ml" x="812.1" y="521.9" textLength="48.8" lengthAdjust="spacingAndGlyphs" fill="#8200dc" stroke="#8200dc">OOPC</text>
<g fill="#fa3c3c" stroke="#fa3c3c"><path class="trk" d="M193.5 749.5 L209.0 741.0 L222.0 717.0 L236.0 715.0 L251.0 691.0 L267.0 662.0 L301.0 645.6 L305.0 640.6 L344.4 628.8 L366.0 624.4"/>
<circle class="oc" cx="209.0" cy="741.0" r="2.8"/>
<circle class="oc" cx="222.0" cy="717.0" r="2.8"/>
<circle class="fc" cx="236.0" cy="715.0" r="2.75"/>
<circle class="oc" cx="251.0" cy="691.0" r="2.8"/>
<circle class="oc" cx="267.0" cy="662.0" r="2.8"/>
<circle class="fc" cx="301.0" cy="645.6" r="2.75"/>
<circle class="oc" cx="305.0" cy="640.6" r="2.8"/>
<circle class="oc" cx="344.4" cy="628.8" r="2.8"/>
<circle class="fc" cx="366.0" cy="624.4" r="2.75"/>
</g>
<text class="hr" x="228.9" y="731.3" textLength="14.2" lengthAdjust="spacingAndGlyphs">24</text>
<text class="hr" x="293.9" y="661.9" textLength="14.2" lengthAdjust="spacingAndGlyphs">48</text>
<text class="hr" x="358.9" y="640.7" textLength="14.2" lengthAdjust="spacingAndGlyphs">72</text>
<text class="ml" x="343.0" y="619.3" textLength="46.0" lengthAdjust="spacingAndGlyphs" fill="#fa3c3c" stroke="#fa3c3c">AFW1</text>
<path d="M184 763.5 L187.5 757.5" stroke="#00dc00" stroke-width="1.4" fill="none"/><path d="M189.5 753.5 L200.5 750" stroke="#fa3c3c" stroke-width="1.3" fill="none"/><circle cx="198.5" cy="751.5" r="2.8" fill="none" stroke="#fa3c3c" stroke-width="1.2"/>
<line x1="159.4" y1="121.2" x2="166.4" y2="121.2" stroke="#000" stroke-width="1.3"/>
<text class="ax" x="116.3" y="129.6" textLength="36.2" lengthAdjust="spacingAndGlyphs">60N</text>
<line x1="159.4" y1="240.5" x2="166.4" y2="240.5" stroke="#000" stroke-width="1.3"/>
<text class="ax" x="116.3" y="248.9" textLength="36.2" lengthAdjust="spacingAndGlyphs">55N</text>
<line x1="159.4" y1="359.8" x2="166.4" y2="359.8" stroke="#000" stroke-width="1.3"/>
<text class="ax" x="116.3" y="368.2" textLength="36.2" lengthAdjust="spacingAndGlyphs">50N</text>
<line x1="159.4" y1="479.1" x2="166.4" y2="479.1" stroke="#000" stroke-width="1.3"/>
<text class="ax" x="116.3" y="487.5" textLength="36.2" lengthAdjust="spacingAndGlyphs">45N</text>
<line x1="159.4" y1="598.4" x2="166.4" y2="598.4" stroke="#000" stroke-width="1.3"/>
<text class="ax" x="116.3" y="606.8" textLength="36.2" lengthAdjust="spacingAndGlyphs">40N</text>
<line x1="159.4" y1="717.7" x2="166.4" y2="717.7" stroke="#000" stroke-width="1.3"/>
<text class="ax" x="116.3" y="726.1" textLength="36.2" lengthAdjust="spacingAndGlyphs">35N</text>
<line x1="159.4" y1="837.0" x2="166.4" y2="837.0" stroke="#000" stroke-width="1.3"/>
<text class="ax" x="116.3" y="845.4" textLength="36.2" lengthAdjust="spacingAndGlyphs">30N</text>
<line x1="317.7" y1="939.3" x2="317.7" y2="946.4" stroke="#000" stroke-width="1.3"/>
<text class="ax" x="298.7" y="967.4" textLength="38" lengthAdjust="spacingAndGlyphs">50W</text>
<line x1="509.8" y1="939.3" x2="509.8" y2="946.4" stroke="#000" stroke-width="1.3"/>
<text class="ax" x="490.8" y="967.4" textLength="38" lengthAdjust="spacingAndGlyphs">40W</text>
<line x1="701.9" y1="939.3" x2="701.9" y2="946.4" stroke="#000" stroke-width="1.3"/>
<text class="ax" x="682.9" y="967.4" textLength="38" lengthAdjust="spacingAndGlyphs">30W</text>
<line x1="894.0" y1="939.3" x2="894.0" y2="946.4" stroke="#000" stroke-width="1.3"/>
<text class="ax" x="875.0" y="967.4" textLength="38" lengthAdjust="spacingAndGlyphs">20W</text>
<text class="ttl" x="166.5" y="56.2" textLength="85.0" lengthAdjust="spacingAndGlyphs">Atlantic</text>
<text class="ttl" x="266.5" y="56.2" textLength="89.5" lengthAdjust="spacingAndGlyphs">Tropical</text>
<text class="ttl" x="372.5" y="56.2" textLength="67.5" lengthAdjust="spacingAndGlyphs">Storm</text>
<text class="ttl" x="456.5" y="56.2" textLength="85.0" lengthAdjust="spacingAndGlyphs">HARVEY</text>
<text class="ttl" x="558.5" y="56.2" textLength="64.0" lengthAdjust="spacingAndGlyphs">Model</text>
<text class="ttl" x="638.8" y="56.2" textLength="73.7" lengthAdjust="spacingAndGlyphs">Tracks</text>
<text class="ttl" x="166.3" y="80.2" textLength="53.7" lengthAdjust="spacingAndGlyphs">Valid</text>
<text class="ttl" x="236.3" y="80.2" textLength="58.7" lengthAdjust="spacingAndGlyphs">Time:</text>
<text class="ttl" x="314.5" y="80.2" textLength="54.3" lengthAdjust="spacingAndGlyphs">1200</text>
<text class="ttl" x="386.3" y="80.2" textLength="41.2" lengthAdjust="spacingAndGlyphs">UTC</text>
<text class="ttl" x="443.8" y="80.2" textLength="27.5" lengthAdjust="spacingAndGlyphs">06</text>
<text class="ttl" x="487.5" y="80.2" textLength="77.5" lengthAdjust="spacingAndGlyphs">August</text>
<text class="ttl" x="580" y="80.2" textLength="58.8" lengthAdjust="spacingAndGlyphs">2005</text>
<line x1="1089.3" y1="94.4" x2="1102.6" y2="94.4" stroke="#fa3c3c" stroke-width="1.7"/>
<text class="lg" x="1125.2" y="101.1" textLength="37.7" lengthAdjust="spacingAndGlyphs" fill="#fa3c3c" stroke="#fa3c3c">CMC</text>
<line x1="1089.3" y1="112.5" x2="1102.6" y2="112.5" stroke="#00dc00" stroke-width="1.7"/>
<text class="lg" x="1125.2" y="119.2" textLength="35.9" lengthAdjust="spacingAndGlyphs" fill="#00dc00" stroke="#00dc00">EMX</text>
<line x1="1089.3" y1="130.5" x2="1102.6" y2="130.5" stroke="#1e3cff" stroke-width="1.7"/>
<text class="lg" x="1125.2" y="137.2" textLength="31.0" lengthAdjust="spacingAndGlyphs" fill="#1e3cff" stroke="#1e3cff">ETA</text>
<line x1="1089.3" y1="148.6" x2="1102.6" y2="148.6" stroke="#00c8c8" stroke-width="1.7"/>
<text class="lg" x="1125.2" y="155.3" textLength="30.4" lengthAdjust="spacingAndGlyphs" fill="#00c8c8" stroke="#00c8c8">FV4</text>
<line x1="1089.3" y1="166.7" x2="1102.6" y2="166.7" stroke="#f00082" stroke-width="1.7"/>
<text class="lg" x="1125.2" y="173.4" textLength="38.6" lengthAdjust="spacingAndGlyphs" fill="#f00082" stroke="#f00082">NGM</text>
<line x1="1089.3" y1="184.8" x2="1102.6" y2="184.8" stroke="#e6dc32" stroke-width="1.7"/>
<text class="lg" x="1125.2" y="191.5" textLength="35.9" lengthAdjust="spacingAndGlyphs" fill="#e6dc32" stroke="#e6dc32">NGX</text>
<line x1="1089.3" y1="202.8" x2="1102.6" y2="202.8" stroke="#f08228" stroke-width="1.7"/>
<text class="lg" x="1125.2" y="209.5" textLength="36.8" lengthAdjust="spacingAndGlyphs" fill="#f08228" stroke="#f08228">UKM</text>
<line x1="1089.3" y1="220.9" x2="1102.6" y2="220.9" stroke="#a000c8" stroke-width="1.7"/>
<text class="lg" x="1125.2" y="227.6" textLength="34.0" lengthAdjust="spacingAndGlyphs" fill="#a000c8" stroke="#a000c8">UKX</text>
<line x1="1089.3" y1="239.0" x2="1102.6" y2="239.0" stroke="#a0e632" stroke-width="1.7"/>
<text class="lg" x="1125.2" y="245.7" textLength="40.5" lengthAdjust="spacingAndGlyphs" fill="#a0e632" stroke="#a0e632">A90E</text>
<line x1="1089.3" y1="257.1" x2="1102.6" y2="257.1" stroke="#00a0ff" stroke-width="1.7"/>
<text class="lg" x="1125.2" y="263.8" textLength="40.5" lengthAdjust="spacingAndGlyphs" fill="#00a0ff" stroke="#00a0ff">A98E</text>
<line x1="1089.3" y1="275.1" x2="1102.6" y2="275.1" stroke="#e6af2d" stroke-width="1.7"/>
<text class="lg" x="1125.2" y="281.8" textLength="43.2" lengthAdjust="spacingAndGlyphs" fill="#e6af2d" stroke="#e6af2d">A9UK</text>
<line x1="1089.3" y1="293.2" x2="1102.6" y2="293.2" stroke="#00d28c" stroke-width="1.7"/>
<text class="lg" x="1125.2" y="299.9" textLength="47.8" lengthAdjust="spacingAndGlyphs" fill="#00d28c" stroke="#00d28c">AEMN</text>
<line x1="1089.3" y1="311.3" x2="1102.6" y2="311.3" stroke="#8200dc" stroke-width="1.7"/>
<text class="lg" x="1125.2" y="318.0" textLength="45.7" lengthAdjust="spacingAndGlyphs" fill="#8200dc" stroke="#8200dc">AVNO</text>
<line x1="1089.3" y1="329.4" x2="1102.6" y2="329.4" stroke="#fa3c3c" stroke-width="1.7"/>
<text class="lg" x="1125.2" y="336.1" textLength="47.8" lengthAdjust="spacingAndGlyphs" fill="#fa3c3c" stroke="#fa3c3c">BAMD</text>
<line x1="1089.3" y1="347.4" x2="1102.6" y2="347.4" stroke="#00dc00" stroke-width="1.7"/>
<text class="lg" x="1125.2" y="354.1" textLength="49.6" lengthAdjust="spacingAndGlyphs" fill="#00dc00" stroke="#00dc00">BAMM</text>
<line x1="1089.3" y1="365.5" x2="1102.6" y2="365.5" stroke="#1e3cff" stroke-width="1.7"/>
<text class="lg" x="1125.2" y="372.2" textLength="46.9" lengthAdjust="spacingAndGlyphs" fill="#1e3cff" stroke="#1e3cff">BAMS</text>
<line x1="1089.3" y1="383.6" x2="1102.6" y2="383.6" stroke="#00c8c8" stroke-width="1.7"/>
<text class="lg" x="1125.2" y="390.3" textLength="44.1" lengthAdjust="spacingAndGlyphs" fill="#00c8c8" stroke="#00c8c8">BCD5</text>
<line x1="1089.3" y1="401.7" x2="1102.6" y2="401.7" stroke="#f00082" stroke-width="1.7"/>
<text class="lg" x="1125.2" y="408.4" textLength="43.2" lengthAdjust="spacingAndGlyphs" fill="#f00082" stroke="#f00082">BCS5</text>
<line x1="1089.3" y1="419.7" x2="1102.6" y2="419.7" stroke="#e6dc32" stroke-width="1.7"/>
<text class="lg" x="1125.2" y="426.4" textLength="36.8" lengthAdjust="spacingAndGlyphs" fill="#e6dc32" stroke="#e6dc32">CLIP</text>
<line x1="1089.3" y1="437.8" x2="1102.6" y2="437.8" stroke="#f08228" stroke-width="1.7"/>
<text class="lg" x="1125.2" y="444.5" textLength="41.4" lengthAdjust="spacingAndGlyphs" fill="#f08228" stroke="#f08228">CLP5</text>
<line x1="1089.3" y1="455.9" x2="1102.6" y2="455.9" stroke="#a000c8" stroke-width="1.7"/>
<text class="lg" x="1125.2" y="462.6" textLength="48.7" lengthAdjust="spacingAndGlyphs" fill="#a000c8" stroke="#a000c8">CONU</text>
<line x1="1089.3" y1="474.0" x2="1102.6" y2="474.0" stroke="#a0e632" stroke-width="1.7"/>
<text class="lg" x="1125.2" y="480.7" textLength="45.1" lengthAdjust="spacingAndGlyphs" fill="#a0e632" stroke="#a0e632">DRCL</text>
<line x1="1089.3" y1="492.0" x2="1102.6" y2="492.0" stroke="#00a0ff" stroke-width="1.7"/>
<text class="lg" x="1125.2" y="498.7" textLength="46.0" lengthAdjust="spacingAndGlyphs" fill="#00a0ff" stroke="#00a0ff">DSHP</text>
<line x1="1089.3" y1="510.1" x2="1102.6" y2="510.1" stroke="#e6af2d" stroke-width="1.7"/>
<text class="lg" x="1125.2" y="516.8" textLength="46.0" lengthAdjust="spacingAndGlyphs" fill="#e6af2d" stroke="#e6af2d">DSNS</text>
<line x1="1089.3" y1="528.2" x2="1102.6" y2="528.2" stroke="#00d28c" stroke-width="1.7"/>
<text class="lg" x="1125.2" y="534.9" textLength="43.2" lengthAdjust="spacingAndGlyphs" fill="#00d28c" stroke="#00d28c">FSSE</text>
<line x1="1089.3" y1="546.3" x2="1102.6" y2="546.3" stroke="#8200dc" stroke-width="1.7"/>
<text class="lg" x="1125.2" y="553.0" textLength="44.1" lengthAdjust="spacingAndGlyphs" fill="#8200dc" stroke="#8200dc">GFDL</text>
<line x1="1089.3" y1="564.4" x2="1102.6" y2="564.4" stroke="#fa3c3c" stroke-width="1.7"/>
<text class="lg" x="1125.2" y="571.0" textLength="45.0" lengthAdjust="spacingAndGlyphs" fill="#fa3c3c" stroke="#fa3c3c">GFDT</text>
<line x1="1089.3" y1="582.4" x2="1102.6" y2="582.4" stroke="#00dc00" stroke-width="1.7"/>
<text class="lg" x="1125.2" y="589.1" textLength="47.8" lengthAdjust="spacingAndGlyphs" fill="#00dc00" stroke="#00dc00">GUNA</text>
<line x1="1089.3" y1="600.5" x2="1102.6" y2="600.5" stroke="#1e3cff" stroke-width="1.7"/>
<text class="lg" x="1125.2" y="607.2" textLength="47.8" lengthAdjust="spacingAndGlyphs" fill="#1e3cff" stroke="#1e3cff">GUNS</text>
<line x1="1089.3" y1="618.6" x2="1102.6" y2="618.6" stroke="#00c8c8" stroke-width="1.7"/>
<text class="lg" x="1125.2" y="625.3" textLength="43.2" lengthAdjust="spacingAndGlyphs" fill="#00c8c8" stroke="#00c8c8">LBAR</text>
<line x1="1089.3" y1="636.7" x2="1102.6" y2="636.7" stroke="#f00082" stroke-width="1.7"/>
<text class="lg" x="1125.2" y="643.4" textLength="46.9" lengthAdjust="spacingAndGlyphs" fill="#f00082" stroke="#f00082">MRCL</text>
<line x1="1089.3" y1="654.7" x2="1102.6" y2="654.7" stroke="#e6dc32" stroke-width="1.7"/>
<text class="lg" x="1125.2" y="661.4" textLength="46.9" lengthAdjust="spacingAndGlyphs" fill="#e6dc32" stroke="#e6dc32">NGPS</text>
<line x1="1089.3" y1="672.8" x2="1102.6" y2="672.8" stroke="#f08228" stroke-width="1.7"/>
<text class="lg" x="1125.2" y="679.5" textLength="46.0" lengthAdjust="spacingAndGlyphs" fill="#f08228" stroke="#f08228">OCD5</text>
<line x1="1089.3" y1="690.9" x2="1102.6" y2="690.9" stroke="#a000c8" stroke-width="1.7"/>
<text class="lg" x="1125.2" y="697.6" textLength="45.1" lengthAdjust="spacingAndGlyphs" fill="#a000c8" stroke="#a000c8">OCS5</text>
<line x1="1089.3" y1="709.0" x2="1102.6" y2="709.0" stroke="#000000" stroke-width="1.7"/>
<text class="lg" x="1125.2" y="715.6" textLength="44.1" lengthAdjust="spacingAndGlyphs" fill="#000000" stroke="#000000">OFCL</text>
<line x1="1089.3" y1="727.0" x2="1102.6" y2="727.0" stroke="#a0e632" stroke-width="1.7"/>
<text class="lg" x="1125.2" y="733.7" textLength="38.6" lengthAdjust="spacingAndGlyphs" fill="#a0e632" stroke="#a0e632">SHIP</text>
<line x1="1089.3" y1="745.1" x2="1102.6" y2="745.1" stroke="#00a0ff" stroke-width="1.7"/>
<text class="lg" x="1125.2" y="751.8" textLength="46.0" lengthAdjust="spacingAndGlyphs" fill="#00a0ff" stroke="#00a0ff">SHNS</text>
<line x1="1089.3" y1="763.2" x2="1102.6" y2="763.2" stroke="#e6af2d" stroke-width="1.7"/>
<text class="lg" x="1125.2" y="769.9" textLength="46.9" lengthAdjust="spacingAndGlyphs" fill="#e6af2d" stroke="#e6af2d">GFDN</text>
<line x1="1089.3" y1="781.3" x2="1102.6" y2="781.3" stroke="#00d28c" stroke-width="1.7"/>
<text class="lg" x="1125.2" y="788.0" textLength="45.1" lengthAdjust="spacingAndGlyphs" fill="#00d28c" stroke="#00d28c">COAL</text>
<line x1="1089.3" y1="799.3" x2="1102.6" y2="799.3" stroke="#8200dc" stroke-width="1.7"/>
<text class="lg" x="1125.2" y="806.0" textLength="48.7" lengthAdjust="spacingAndGlyphs" fill="#8200dc" stroke="#8200dc">OOPC</text>
<line x1="1089.3" y1="817.4" x2="1102.6" y2="817.4" stroke="#fa3c3c" stroke-width="1.7"/>
<text class="lg" x="1125.2" y="824.1" textLength="46.0" lengthAdjust="spacingAndGlyphs" fill="#fa3c3c" stroke="#fa3c3c">AFW1</text>
<text class="ft" x="12.4" y="988.2" textLength="57.7" lengthAdjust="spacingAndGlyphs">Tropical</text>
<text class="ft" x="80.4" y="988.2" textLength="56.2" lengthAdjust="spacingAndGlyphs">Cyclone</text>
<text class="ft" x="149.0" y="988.2" textLength="39.2" lengthAdjust="spacingAndGlyphs">Model</text>
<text class="ft" x="201.6" y="988.2" textLength="35.6" lengthAdjust="spacingAndGlyphs">Plots</text>
<text class="ft" x="12.4" y="1000.4" textLength="309.9" lengthAdjust="spacingAndGlyphs">http://derecho.math.uwm.edu/models/</text>
<text class="ft" x="12.4" y="1012.3" textLength="143.6" lengthAdjust="spacingAndGlyphs">@HurricaneModels,</text>
<text class="ft" x="165.0" y="1012.3" textLength="298.6" lengthAdjust="spacingAndGlyphs">http://www.facebook.com/HurrModels</text>
<text class="ft" x="756.3" y="988.2" textLength="92.9" lengthAdjust="spacingAndGlyphs">DISCLAIMER:</text>
<text class="ft" x="859.0" y="988.2" textLength="18.0" lengthAdjust="spacingAndGlyphs">Do</text>
<text class="ft" x="887.5" y="988.2" textLength="23.0" lengthAdjust="spacingAndGlyphs">not</text>
<text class="ft" x="920.8" y="988.2" textLength="24.7" lengthAdjust="spacingAndGlyphs">use</text>
<text class="ft" x="957.5" y="988.2" textLength="24.1" lengthAdjust="spacingAndGlyphs">this</text>
<text class="ft" x="991.4" y="988.2" textLength="45.8" lengthAdjust="spacingAndGlyphs">image</text>
<text class="ft" x="1048.6" y="988.2" textLength="10.4" lengthAdjust="spacingAndGlyphs">in</text>
<text class="ft" x="1070.4" y="988.2" textLength="37.9" lengthAdjust="spacingAndGlyphs">place</text>
<text class="ft" x="1119.9" y="988.2" textLength="14.6" lengthAdjust="spacingAndGlyphs">of</text>
<text class="ft" x="1144.4" y="988.2" textLength="49.2" lengthAdjust="spacingAndGlyphs">official</text>
<text class="ft" x="1204.5" y="988.2" textLength="62.8" lengthAdjust="spacingAndGlyphs">sources!</text>
<text class="ft" x="738.8" y="1000.4" textLength="24.0" lengthAdjust="spacingAndGlyphs">The</text>
<text class="ft" x="773.8" y="1000.4" textLength="49.2" lengthAdjust="spacingAndGlyphs">official</text>
<text class="ft" x="834.0" y="1000.4" textLength="29.5" lengthAdjust="spacingAndGlyphs">NHC</text>
<text class="ft" x="874.4" y="1000.4" textLength="61.2" lengthAdjust="spacingAndGlyphs">forecast</text>
<text class="ft" x="947.0" y="1000.4" textLength="9.4" lengthAdjust="spacingAndGlyphs">is</text>
<text class="ft" x="968.5" y="1000.4" textLength="64.3" lengthAdjust="spacingAndGlyphs">available</text>
<text class="ft" x="1043.8" y="1000.4" textLength="13.5" lengthAdjust="spacingAndGlyphs">at</text>
<text class="ft" x="1067.8" y="1000.4" textLength="199.5" lengthAdjust="spacingAndGlyphs">http://www.nhc.noaa.gov.</text>
<text class="ft" x="481.5" y="1012.3" textLength="65.5" lengthAdjust="spacingAndGlyphs">Forecast</text>
<text class="ft" x="557.4" y="1012.3" textLength="45.4" lengthAdjust="spacingAndGlyphs">points</text>
<text class="ft" x="613.0" y="1012.3" textLength="43.0" lengthAdjust="spacingAndGlyphs">above</text>
<text class="ft" x="666.4" y="1012.3" textLength="24.1" lengthAdjust="spacingAndGlyphs">are</text>
<text class="ft" x="700.0" y="1012.3" textLength="45.3" lengthAdjust="spacingAndGlyphs">shown</text>
<text class="ft" x="757.3" y="1012.3" textLength="11.0" lengthAdjust="spacingAndGlyphs">in</text>
<text class="ft" x="778.6" y="1012.3" textLength="40.0" lengthAdjust="spacingAndGlyphs">6-12</text>
<text class="ft" x="830.6" y="1012.3" textLength="13.2" lengthAdjust="spacingAndGlyphs">hr</text>
<text class="ft" x="854.7" y="1012.3" textLength="84.3" lengthAdjust="spacingAndGlyphs">increments.</text>
<text class="ft" x="953.6" y="1012.3" textLength="41.1" lengthAdjust="spacingAndGlyphs">Initial</text>
<text class="ft" x="1004.4" y="1012.3" textLength="43.6" lengthAdjust="spacingAndGlyphs">points</text>
<text class="ft" x="1059.0" y="1012.3" textLength="59.0" lengthAdjust="spacingAndGlyphs">denoted</text>
<text class="ft" x="1129.0" y="1012.3" textLength="15.4" lengthAdjust="spacingAndGlyphs">by</text>
<text class="ft" x="1155.3" y="1012.3" textLength="37.7" lengthAdjust="spacingAndGlyphs">black</text>
<text class="ft" x="1204.5" y="1012.3" textLength="62.8" lengthAdjust="spacingAndGlyphs">squares.</text>
</svg></body></html>
